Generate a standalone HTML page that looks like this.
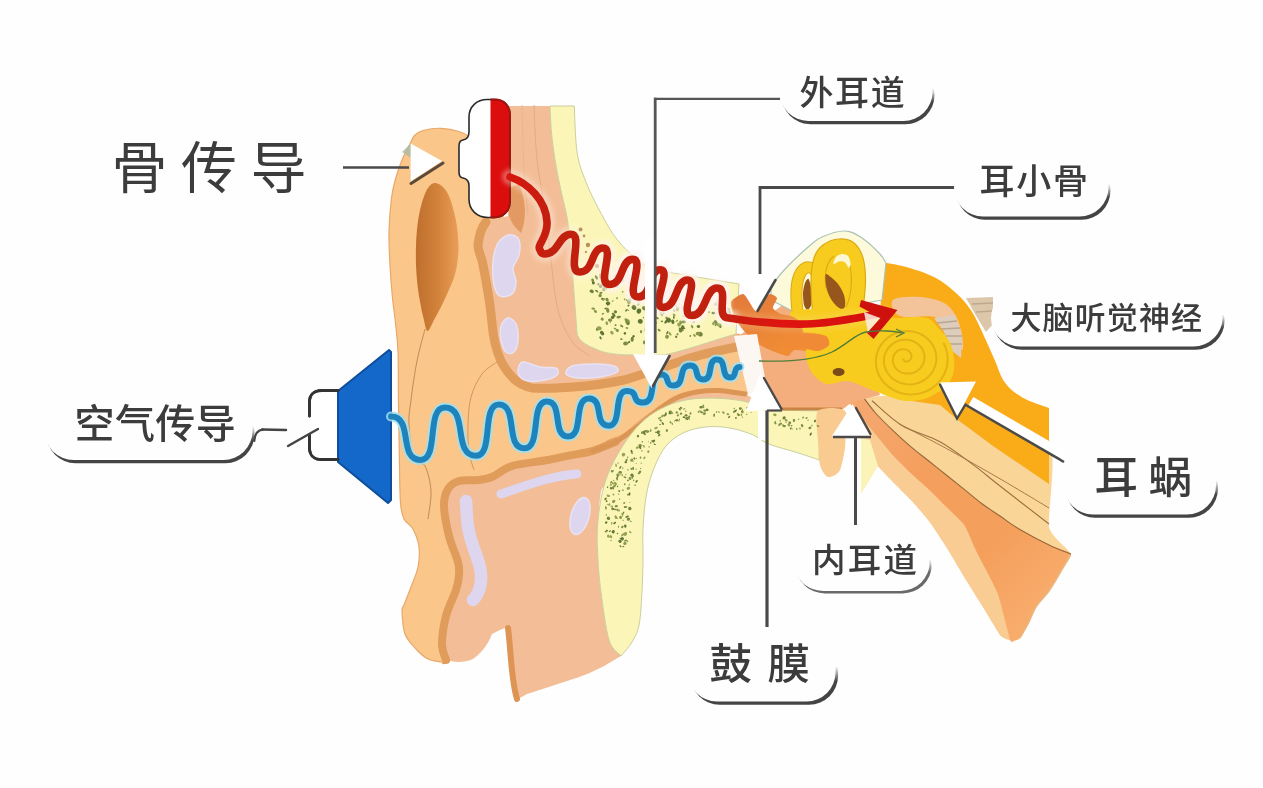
<!DOCTYPE html>
<html lang="zh"><head><meta charset="utf-8"><title>骨传导 / 空气传导</title>
<style>
html,body{margin:0;padding:0;background:#fefefe;}
body{width:1263px;height:788px;overflow:hidden;position:relative;font-family:"Liberation Sans","Noto Sans CJK SC",sans-serif;}
svg{position:absolute;left:0;top:0;display:block}
text{font-family:"Liberation Sans","Noto Sans CJK SC",sans-serif;fill:#3c3c3c}
</style></head><body>
<svg width="1263" height="788" viewBox="0 0 1263 788">
<path d="M409.0,146.0 C411.1,141.9 412.2,138.1 414.5,135.5 C416.8,132.9 418.6,131.7 423.0,130.5 C427.4,129.3 435.0,128.1 441.0,128.3 C447.0,128.5 453.3,129.6 459.0,131.5 C464.7,133.4 468.2,135.2 475.0,140.0 C481.8,144.8 495.0,133.3 500.0,160.0 C505.0,186.7 501.7,265.0 505.0,300.0 C508.3,335.0 504.2,357.5 520.0,370.0 C535.8,382.5 571.7,378.3 600.0,375.0 C628.3,371.7 666.3,356.5 690.0,350.0 C713.7,343.5 732.3,329.0 742.0,336.0 C751.7,343.0 756.7,382.3 748.0,392.0 C739.3,401.7 706.5,390.3 690.0,394.0 C673.5,397.7 660.0,407.3 649.0,414.0 C638.0,420.7 632.5,428.0 624.0,434.0 C615.5,440.0 608.7,435.7 598.0,450.0 C587.3,464.3 573.0,495.0 560.0,520.0 C547.0,545.0 535.0,580.0 520.0,600.0 C505.0,620.0 482.3,629.7 470.0,640.0 C457.7,650.3 450.8,658.3 446.0,662.0 C441.2,665.7 444.0,662.5 441.0,662.0 C438.0,661.5 432.2,661.2 428.0,659.0 C423.8,656.8 419.8,653.2 416.0,649.0 C412.2,644.8 407.3,640.3 405.0,634.0 C402.7,627.7 402.2,615.8 402.0,611.0 C401.8,606.2 402.5,609.0 404.0,605.0 C405.5,601.0 408.7,593.3 411.0,587.0 C413.3,580.7 416.7,573.7 418.0,567.0 C419.3,560.3 419.8,553.3 419.0,547.0 C418.2,540.7 415.5,533.7 413.0,529.0 C410.5,524.3 406.1,523.3 404.0,519.0 C401.9,514.7 401.2,512.0 400.5,503.0 C399.8,494.0 399.8,481.5 399.5,465.0 C399.2,448.5 398.8,422.8 398.5,404.0 C398.2,385.2 398.5,365.5 398.0,352.0 C397.5,338.5 396.4,332.0 395.5,323.0 C394.6,314.0 393.4,307.7 392.5,298.0 C391.6,288.3 390.6,276.0 390.0,265.0 C389.4,254.0 388.8,243.2 389.0,232.0 C389.2,220.8 390.4,206.8 391.5,198.0 C392.6,189.2 393.8,185.3 395.5,179.0 C397.2,172.7 399.8,165.5 402.0,160.0 C404.2,154.5 406.9,150.1 409.0,146.0Z" fill="#FBC689" stroke="#E8A86A" stroke-width="1.2"/>
<defs><linearGradient id="gScapha" x1="0" y1="0" x2="1" y2="0"><stop offset="0" stop-color="#BE6F2C"/><stop offset="0.5" stop-color="#D2823A"/><stop offset="1" stop-color="#E99E58"/></linearGradient></defs>
<path d="M435.5,183.0 C437.8,183.2 440.8,184.8 443.0,187.0 C445.2,189.2 447.2,191.8 449.0,196.0 C450.8,200.2 452.7,206.8 454.0,212.0 C455.3,217.2 456.2,221.0 457.0,227.0 C457.8,233.0 458.5,241.7 458.5,248.0 C458.5,254.3 457.8,259.8 457.0,265.0 C456.2,270.2 455.0,274.5 453.5,279.0 C452.0,283.5 449.9,287.7 448.0,292.0 C446.1,296.3 444.2,300.5 442.0,305.0 C439.8,309.5 436.9,314.7 434.5,319.0 C432.1,323.3 429.3,331.2 427.5,331.0 C425.7,330.8 424.7,322.5 423.5,318.0 C422.3,313.5 421.5,309.5 420.5,304.0 C419.5,298.5 418.2,291.5 417.5,285.0 C416.8,278.5 416.2,271.7 416.0,265.0 C415.8,258.3 415.8,251.7 416.0,245.0 C416.2,238.3 416.8,231.2 417.5,225.0 C418.2,218.8 419.3,213.0 420.5,208.0 C421.7,203.0 423.0,198.7 424.5,195.0 C426.0,191.3 427.7,188.0 429.5,186.0 C431.3,184.0 433.2,182.8 435.5,183.0Z" fill="url(#gScapha)"/>
<path d="M425.0,329.0 C423.7,334.3 419.3,349.2 417.0,361.0 C414.7,372.8 412.3,389.3 411.0,400.0 C409.7,410.7 408.5,415.0 409.0,425.0 C409.5,435.0 411.3,453.2 414.0,460.0 C416.7,466.8 422.2,460.8 425.0,466.0 C427.8,471.2 430.5,482.2 431.0,491.0 C431.5,499.8 428.5,514.3 428.0,519.0" fill="none" stroke="#B9834E" stroke-width="0.9"/>
<path d="M497.0,362.0 C494.5,364.0 486.3,368.2 482.0,374.0 C477.7,379.8 473.3,388.5 471.0,397.0 C468.7,405.5 468.3,415.8 468.0,425.0 C467.7,434.2 468.0,444.5 469.0,452.0 C470.0,459.5 473.2,467.0 474.0,470.0" fill="none" stroke="#C9925A" stroke-width="0.9"/>
<path d="M508,106 L550,106 C551,150 559,182 566,212 C569,225 572,260 573,280 L577,333 C578,340 585,345 598,350 C605,353 615,355 636,355 L665,355 C690,349 715,340 736,334 L742,346 C720,350 700,355 690,358 C675,363 660,369 649,372 C640,375 632,378 624,380 C605,384 590,386 573,387 C560,388 545,389 532,388 C524,386 518,383 514,379 C508,373 504,367 501,361 C496,350 493,336 492,323 C491,313 490,303 488,293 C486,280 484,270 482,260 C479,252 478,248 478,245 C479,236 481,228 485,222 L508,216Z" fill="#F3BE97"/>
<path d="M486,222 C481,228 479,236 478,245 C478,248 479,252 482,260 C484,270 486,280 488,293 C490,303 491,313 492,323 C493,336 496,350 501,361 C504,367 508,373 514,379 C518,383 524,386 532,388 C545,389 560,388 573,387 C590,386 605,384 624,380 C632,378 640,375 649,372 C660,369 675,363 690,358 C700,355 720,350 742,346" fill="none" stroke="#E09C5A" stroke-width="9" stroke-linecap="round" stroke-linejoin="round"/>
<path d="M534.0,105.0 C534.5,114.2 535.2,142.5 537.0,160.0 C538.8,177.5 542.7,193.3 545.0,210.0 C547.3,226.7 549.2,245.0 551.0,260.0 C552.8,275.0 554.0,289.2 556.0,300.0 C558.0,310.8 559.8,317.5 563.0,325.0 C566.2,332.5 570.5,339.8 575.0,345.0 C579.5,350.2 587.5,354.2 590.0,356.0" fill="none" stroke="#E2AC84" stroke-width="1"/>
<path d="M522.0,105.0 C522.3,115.8 523.0,151.7 524.0,170.0 C525.0,188.3 527.3,207.5 528.0,215.0" fill="none" stroke="#E8B48E" stroke-width="0.9"/>
<path d="M509,188 L519,184 C526,200 527,218 521,233 C515,228 511,222 509,216Z" fill="#E29A62"/>
<path d="M446.0,660.0 C445.3,657.3 442.0,651.3 442.0,644.0 C442.0,636.7 443.7,625.0 446.0,616.0 C448.3,607.0 453.8,596.8 456.0,590.0 C458.2,583.2 458.7,579.7 459.0,575.0 C459.3,570.3 459.7,568.5 458.0,562.0 C456.3,555.5 451.3,545.3 449.0,536.0 C446.7,526.7 444.2,513.8 444.0,506.0 C443.8,498.2 445.5,493.2 448.0,489.0 C450.5,484.8 454.0,482.5 459.0,481.0 C464.0,479.5 472.5,480.7 478.0,480.0 C483.5,479.3 486.3,479.3 492.0,477.0 C497.7,474.7 502.7,468.8 512.0,466.0 C521.3,463.2 538.3,461.8 548.0,460.0 C557.7,458.2 562.5,456.9 570.0,455.4 C577.5,453.9 585.2,453.1 592.8,450.8 C600.4,448.5 608.1,445.9 615.7,441.7 C623.3,437.5 630.9,431.4 638.5,425.7 C646.1,420.0 654.9,412.1 661.4,407.4 C667.9,402.7 671.3,400.1 677.4,397.5 C683.5,394.9 691.1,393.0 698.0,391.8 C704.9,390.6 710.7,390.1 718.5,390.5 C726.3,390.9 740.6,393.4 745.0,394.0 L760,402 L760,414 L700,410 L650,432 L621,470 C612,478 603,485 601,491 C598,510 598,530 598,541 C598,560 599,580 601,592 C603,610 606,628 609,640 L621,656 C612,661 605,666 598,669 C590,673 580,677 573,679 C555,685 540,690 527,694 L516,700 C512,690 510,660 510,645 L507,627 L500,630 L492,634 C488,645 480,655 471,660 C462,663 452,662 446,660Z" fill="#F3BE97"/>
<path d="M446.0,660.0 C445.3,657.3 442.0,651.3 442.0,644.0 C442.0,636.7 443.7,625.0 446.0,616.0 C448.3,607.0 453.8,596.8 456.0,590.0 C458.2,583.2 458.7,579.7 459.0,575.0 C459.3,570.3 459.7,568.5 458.0,562.0 C456.3,555.5 451.3,545.3 449.0,536.0 C446.7,526.7 444.2,513.8 444.0,506.0 C443.8,498.2 445.5,493.2 448.0,489.0 C450.5,484.8 454.0,482.5 459.0,481.0 C464.0,479.5 472.5,480.7 478.0,480.0 C483.5,479.3 486.3,479.3 492.0,477.0 C497.7,474.7 502.7,468.8 512.0,466.0 C521.3,463.2 538.3,461.8 548.0,460.0 C557.7,458.2 562.5,456.9 570.0,455.4 C577.5,453.9 585.2,453.1 592.8,450.8 C600.4,448.5 611.9,443.2 615.7,441.7" fill="none" stroke="#E09C5A" stroke-width="8" stroke-linecap="round" stroke-linejoin="round"/>
<path d="M592.8,450.8 C596.6,449.3 608.1,445.9 615.7,441.7 C623.3,437.5 630.9,431.4 638.5,425.7 C646.1,420.0 654.9,412.1 661.4,407.4 C667.9,402.7 671.3,400.1 677.4,397.5 C683.5,394.9 691.1,393.0 698.0,391.8 C704.9,390.6 710.7,390.1 718.5,390.5 C726.3,390.9 740.6,393.4 745.0,394.0" fill="none" stroke="#DB9656" stroke-width="5" stroke-linecap="round" stroke-linejoin="round"/>
<path d="M508,628 C511,650 511,680 517,699" fill="none" stroke="#DE9455" stroke-width="6" stroke-linecap="round"/>
<path d="M550,106 L574.3,106 C575,125 575.5,140 577,152 C579,165 582,172 586,182 C591,195 598,208 608.6,227 C615,238 622,245.5 628,251.5 C636,259 644,265 652,269.5 L739,284 L736,334 C715,340 690,349 665,355 L636,355 C615,355 605,353 598,350 C585,345 578,340 577,333 L573,280 C572,260 569,225 566,212 C559,182 551,150 550,106Z" fill="#FBF6B8" stroke="#C9CF9C" stroke-width="1"/>
<path d="M621.0,656.0 C619.0,653.3 612.3,650.7 609.0,640.0 C605.7,629.3 602.8,605.3 601.0,592.0 C599.2,578.7 598.6,570.6 598.0,560.0 C597.4,549.4 596.7,539.5 597.4,528.5 C598.1,517.5 599.7,504.2 602.0,494.0 C604.3,483.8 606.8,476.1 611.0,467.0 C615.2,457.9 621.3,447.4 627.0,439.4 C632.7,431.4 638.9,424.5 645.4,419.0 C651.9,413.5 658.7,409.6 666.0,406.3 C673.3,403.0 680.2,400.7 689.0,399.4 C697.8,398.1 709.0,397.9 718.5,398.3 C728.0,398.7 739.6,400.2 746.0,401.7 C752.4,403.2 753.5,406.0 757.0,407.4 C760.5,408.8 765.3,409.6 767.0,410.0 L822,411 L819,460 L819.0,460.0 C815.6,458.8 806.9,455.7 798.5,453.0 C790.1,450.3 776.4,447.0 768.8,444.0 C761.2,441.0 759.3,437.5 752.8,434.8 C746.3,432.1 737.6,429.3 730.0,428.0 C722.4,426.7 714.7,426.1 707.0,426.8 C699.3,427.6 690.8,429.3 684.0,432.5 C677.2,435.7 670.9,440.2 666.0,446.0 C661.1,451.8 657.8,459.0 654.5,467.0 C651.2,475.0 648.4,483.8 646.5,494.0 C644.6,504.2 643.6,517.5 643.0,528.5 C642.4,539.5 643.2,549.4 643.0,560.0 C642.8,570.6 642.7,581.2 642.0,592.0 C641.3,602.8 640.7,616.7 639.0,625.0 C637.3,633.3 635.0,636.8 632.0,642.0 C629.0,647.2 622.8,653.7 621.0,656.0Z" fill="#FBF6B8" stroke="#C9CF9C" stroke-width="1"/>
<path d="M512.0,235.0 C514.5,235.5 517.8,236.7 519.0,240.0 C520.2,243.3 520.0,250.3 519.0,255.0 C518.0,259.7 513.5,263.5 513.0,268.0 C512.5,272.5 516.2,277.7 516.0,282.0 C515.8,286.3 514.7,291.7 512.0,294.0 C509.3,296.3 503.0,297.5 500.0,296.0 C497.0,294.5 495.2,290.7 494.0,285.0 C492.8,279.3 492.5,268.7 493.0,262.0 C493.5,255.3 495.2,249.2 497.0,245.0 C498.8,240.8 501.5,238.7 504.0,237.0 C506.5,235.3 509.5,234.5 512.0,235.0Z" fill="#DDD6EE" stroke="#E9E2F2" stroke-width="1.5"/>
<path d="M508.0,318.0 C510.5,317.7 514.3,320.3 516.0,324.0 C517.7,327.7 518.3,335.3 518.0,340.0 C517.7,344.7 516.0,350.0 514.0,352.0 C512.0,354.0 508.2,354.0 506.0,352.0 C503.8,350.0 501.8,344.3 501.0,340.0 C500.2,335.7 499.8,329.7 501.0,326.0 C502.2,322.3 505.5,318.3 508.0,318.0Z" fill="#DDD6EE" stroke="#E9E2F2" stroke-width="1.5"/>
<path d="M524.0,362.0 C527.5,362.2 534.7,366.0 540.0,367.0 C545.3,368.0 553.2,366.7 556.0,368.0 C558.8,369.3 558.8,373.0 557.0,375.0 C555.2,377.0 549.8,379.0 545.0,380.0 C540.2,381.0 532.3,381.8 528.0,381.0 C523.7,380.2 520.5,377.5 519.0,375.0 C517.5,372.5 518.2,368.2 519.0,366.0 C519.8,363.8 520.5,361.8 524.0,362.0Z" fill="#DDD6EE" stroke="#E9E2F2" stroke-width="1.5"/>
<path d="M572.0,366.0 C576.8,364.3 588.0,364.0 595.0,364.0 C602.0,364.0 610.3,364.7 614.0,366.0 C617.7,367.3 619.3,370.2 617.0,372.0 C614.7,373.8 606.5,376.0 600.0,377.0 C593.5,378.0 583.7,378.5 578.0,378.0 C572.3,377.5 567.0,376.0 566.0,374.0 C565.0,372.0 567.2,367.7 572.0,366.0Z" fill="#DDD6EE" stroke="#E9E2F2" stroke-width="1.5"/>
<path d="M466,501 C467,520 467,530 474,549 C480,565 483,575 480,587 C478,594 475,598 473,600" fill="none" stroke="#DDD6EE" stroke-width="12.5" stroke-linecap="round"/>
<path d="M501,494 C525,486 550,476 577,474" fill="none" stroke="#DDD6EE" stroke-width="9" stroke-linecap="round"/>
<ellipse cx="580" cy="516" rx="9" ry="19" transform="rotate(16 580 516)" fill="#DDD6EE" stroke="#E9E2F2" stroke-width="1.5"/>
<path d="M852.0,400.0 C855.7,397.5 892.5,394.6 900.0,395.0 C907.5,395.4 929.6,401.2 942.0,405.0 C954.4,408.8 1040.1,429.8 1049.0,440.0 C1057.9,450.2 1047.2,517.5 1049.0,527.0 C1050.8,536.5 1070.1,550.2 1071.0,554.0 C1071.9,557.8 1061.8,569.9 1060.0,573.0 C1058.2,576.1 1051.0,588.2 1049.0,591.0 C1047.0,593.8 1037.8,604.2 1036.0,607.0 C1034.2,609.8 1029.3,621.4 1028.0,624.0 C1026.7,626.6 1021.2,636.6 1020.0,638.0 C1018.8,639.4 1015.1,641.2 1013.5,641.0 C1011.9,640.8 1003.5,638.8 1001.0,636.0 C998.5,633.2 986.0,611.8 983.0,607.0 C980.0,602.2 968.5,583.9 965.5,579.0 C962.5,574.1 950.0,552.8 947.0,548.0 C944.0,543.2 932.0,525.0 929.0,521.0 C926.0,517.0 914.0,503.2 911.0,500.0 C908.0,496.8 895.8,484.9 893.0,482.0 C890.2,479.1 879.5,468.2 877.0,465.0 C874.5,461.8 864.8,446.3 863.0,443.0 C861.2,439.7 856.9,428.6 856.0,425.0 C855.1,421.4 848.3,402.5 852.0,400.0Z" fill="#FAD598"/>
<path d="M852.0,402.0 C852.1,401.0 855.8,410.3 857.8,413.0 C859.8,415.7 872.5,430.8 875.5,434.4 C878.5,438.0 890.3,452.4 893.3,455.7 C896.3,459.0 908.0,470.7 911.0,473.5 C914.0,476.3 925.8,486.6 928.8,489.4 C931.8,492.2 943.6,504.2 946.6,507.2 C949.6,510.2 961.8,521.4 964.3,525.0 C966.8,528.6 973.2,545.0 976.0,550.7 C978.8,556.4 994.7,585.6 997.5,593.0 C1000.3,600.4 1008.7,635.5 1010.0,639.5 C1011.3,643.5 1014.2,641.3 1013.5,641.0 C1012.8,640.7 1003.5,638.8 1001.0,636.0 C998.5,633.2 986.0,611.8 983.0,607.0 C980.0,602.2 968.5,583.9 965.5,579.0 C962.5,574.1 950.0,552.8 947.0,548.0 C944.0,543.2 932.0,525.0 929.0,521.0 C926.0,517.0 914.0,503.2 911.0,500.0 C908.0,496.8 895.8,484.9 893.0,482.0 C890.2,479.1 879.5,468.2 877.0,465.0 C874.5,461.8 864.8,446.3 863.0,443.0 C861.2,439.7 856.9,428.4 856.0,425.0 C855.1,421.6 851.9,403.0 852.0,402.0Z" fill="#F9CC93"/>
<defs><linearGradient id="gNerve" gradientUnits="userSpaceOnUse" x1="870" y1="410" x2="1050" y2="600"><stop offset="0" stop-color="#F5A76E"/><stop offset="0.3" stop-color="#F59F5E"/><stop offset="0.7" stop-color="#F59F5C"/><stop offset="1" stop-color="#F8AC6C"/></linearGradient></defs>
<path d="M848.0,388.0 C849.4,387.9 860.7,394.9 863.0,397.0 C865.3,399.1 873.0,410.2 875.5,413.0 C878.0,415.8 890.3,428.0 893.3,430.8 C896.3,433.6 908.0,444.3 911.0,446.8 C914.0,449.3 925.8,458.6 928.8,461.0 C931.8,463.4 943.6,472.8 946.6,475.2 C949.6,477.6 961.3,487.0 964.3,489.4 C967.2,491.8 979.0,501.5 982.0,503.7 C985.0,505.9 996.9,513.9 1000.0,516.0 C1003.1,518.1 1014.9,526.6 1019.0,529.0 C1023.1,531.4 1044.7,542.9 1049.0,545.0 C1053.3,547.1 1070.1,551.7 1071.0,554.0 C1071.9,556.3 1061.8,569.9 1060.0,573.0 C1058.2,576.1 1051.0,588.2 1049.0,591.0 C1047.0,593.8 1037.8,604.2 1036.0,607.0 C1034.2,609.8 1029.3,621.4 1028.0,624.0 C1026.7,626.6 1021.2,636.6 1020.0,638.0 C1018.8,639.4 1014.3,640.9 1013.5,641.0 C1012.7,641.1 1011.3,643.5 1010.0,639.5 C1008.7,635.5 1000.3,600.4 997.5,593.0 C994.7,585.6 978.8,556.4 976.0,550.7 C973.2,545.0 966.8,528.6 964.3,525.0 C961.8,521.4 949.6,510.2 946.6,507.2 C943.6,504.2 931.8,492.2 928.8,489.4 C925.8,486.6 914.0,476.3 911.0,473.5 C908.0,470.7 896.3,459.0 893.3,455.7 C890.3,452.4 878.5,438.0 875.5,434.4 C872.5,430.8 860.3,416.0 857.8,413.0 C855.3,410.0 846.8,400.1 846.0,398.0 C845.2,395.9 846.6,388.1 848.0,388.0Z" fill="url(#gNerve)"/>
<path d="M863.0,397.0 C865.1,399.7 870.5,407.4 875.5,413.0 C880.5,418.6 887.4,425.2 893.3,430.8 C899.2,436.4 905.1,441.8 911.0,446.8 C916.9,451.8 922.9,456.3 928.8,461.0 C934.7,465.7 940.7,470.5 946.6,475.2 C952.5,479.9 958.4,484.6 964.3,489.4 C970.2,494.1 976.0,499.3 982.0,503.7 C988.0,508.1 993.8,511.8 1000.0,516.0 C1006.2,520.2 1010.8,524.2 1019.0,529.0 C1027.2,533.8 1040.3,540.8 1049.0,545.0 C1057.7,549.2 1067.3,552.5 1071.0,554.0" fill="none" stroke="#93683A" stroke-width="1.1"/>
<path d="M872.0,400.7 C877.0,404.8 890.8,418.7 902.0,425.5 C913.2,432.3 927.7,435.0 939.5,441.5 C951.3,448.0 962.9,457.2 973.0,464.6 C983.1,472.0 987.3,476.1 1000.0,486.0 C1012.7,495.9 1040.8,517.7 1049.0,524.0" fill="none" stroke="#9C7040" stroke-width="1.1"/>
<path d="M898.6,423.7 C906.6,427.9 929.7,439.4 946.6,448.6 C963.5,457.8 982.9,468.9 1000.0,478.8 C1017.1,488.7 1040.8,503.1 1049.0,508.0" fill="none" stroke="#A87A48" stroke-width="1"/>
<path d="M1070.0,555.0 C1068.3,558.0 1063.5,567.0 1060.0,573.0 C1056.5,579.0 1053.0,585.3 1049.0,591.0 C1045.0,596.7 1039.5,601.5 1036.0,607.0 C1032.5,612.5 1030.7,618.8 1028.0,624.0 C1025.3,629.2 1021.3,635.7 1020.0,638.0" fill="none" stroke="#E9B880" stroke-width="1.5"/>
<path d="M740.0,335.0 L790.0,300.0 L860.0,330.0 L880.0,395.0 L852.0,402.0 L842.0,410.0 L767.0,410.0 L760.0,380.0Z" fill="#F4AE7E"/>
<path d="M966,298 L993,297 L993,324 L986,332 L975,314Z" fill="#DCC7AA"/>
<path d="M972,304 L993,303 M976,312 L993,311" stroke="#BFA98C" stroke-width="1.5" fill="none"/>
<path d="M884.0,262.5 C888.0,263.3 899.3,264.9 908.0,267.5 C916.7,270.1 928.0,273.7 936.0,278.0 C944.0,282.3 950.4,287.8 956.3,293.3 C962.2,298.8 966.9,303.8 971.5,311.0 C976.1,318.2 980.4,328.3 984.2,336.4 C988.0,344.4 991.0,351.7 994.4,359.3 C997.8,366.9 999.9,375.6 1004.5,382.0 C1009.1,388.4 1014.9,393.1 1022.3,397.4 C1029.7,401.7 1044.5,406.2 1049.0,408.0 L1049,484 L993,446 L958,420 L940,405 L905,400 L880,330 L881,290Z" fill="#F9AC18"/>
<path d="M893.0,300.0 C896.3,296.8 911.5,296.5 920.0,297.0 C928.5,297.5 938.0,299.8 944.0,303.0 C950.0,306.2 953.0,310.7 956.0,316.0 C959.0,321.3 961.0,329.3 962.0,335.0 C963.0,340.7 964.0,350.8 962.0,350.0 C960.0,349.2 954.5,335.5 950.0,330.0 C945.5,324.5 943.3,319.3 935.0,317.0 C926.7,314.7 907.0,318.8 900.0,316.0 C893.0,313.2 889.7,303.2 893.0,300.0Z" fill="#F3C49A"/>
<path d="M934.0,318.0 L955.0,315.0 L962.0,336.0 L961.0,358.0 L951.0,350.0 L944.0,332.0Z" fill="#DCCDBC"/>
<path d="M937,323 L957,321 M941,329 L960,328 M946,336 L962,336 M950,344 L962,344" stroke="#B9A68E" stroke-width="1.6" fill="none"/>
<path d="M771.0,286.0 C773.5,283.0 780.0,274.3 786.0,268.0 C792.0,261.7 801.0,253.2 807.0,248.0 C813.0,242.8 815.7,239.8 822.0,237.0 C828.3,234.2 838.3,230.8 845.0,231.0 C851.7,231.2 856.2,234.2 862.0,238.0 C867.8,241.8 876.0,249.8 880.0,254.0 C884.0,258.2 885.0,261.5 886.0,263.0 L882,300 L800,315 L771,300Z" fill="#FCFADB" stroke="#A9C2B4" stroke-width="1.2"/>
<defs><linearGradient id="gOss" x1="0" y1="0" x2="1" y2="1"><stop offset="0" stop-color="#E2793C"/><stop offset="1" stop-color="#F59432"/></linearGradient></defs>
<path d="M731.0,302.0 C731.9,299.2 740.8,293.9 743.0,294.0 C745.2,294.1 748.5,301.0 750.0,303.0 C751.5,305.0 754.4,311.4 756.0,311.0 C757.6,310.6 762.4,302.0 764.0,300.0 C765.6,298.0 768.5,294.2 770.0,294.0 C771.5,293.8 776.6,296.4 777.0,298.0 C777.4,299.6 772.5,306.1 773.0,308.0 C773.5,309.9 777.9,312.8 781.0,314.0 C784.1,315.2 794.8,315.8 800.0,318.0 C805.2,320.2 822.6,329.9 826.0,333.0 C829.4,336.1 830.3,342.8 829.0,345.0 C827.7,347.2 819.0,351.4 815.0,352.0 C811.0,352.6 798.1,349.5 795.0,350.0 C791.9,350.5 790.3,355.8 788.0,356.0 C785.7,356.2 778.3,353.3 775.0,352.0 C771.7,350.7 763.5,347.3 760.0,345.0 C756.5,342.7 747.9,335.1 745.0,332.0 C742.1,328.9 736.6,321.5 735.0,318.0 C733.4,314.5 730.1,304.8 731.0,302.0Z" fill="url(#gOss)"/>
<path d="M797.5,311 C795.5,295 796,278 802,271 C806,266 812,266 816,272" fill="none" stroke="#DCA912" stroke-width="12" stroke-linecap="round"/>
<path d="M797.5,311 C795.5,295 796,278 802,271 C806,266 812,266 816,272" fill="none" stroke="#F8CC1E" stroke-width="10" stroke-linecap="round"/>
<path d="M803.0,293.0 C803.1,290.1 804.3,284.9 805.0,283.0 C805.7,281.1 807.6,278.1 808.5,279.0 C809.4,279.9 811.1,286.7 811.5,290.0 C811.9,293.3 812.0,301.3 811.5,304.0 C811.0,306.7 808.5,309.9 807.5,310.0 C806.5,310.1 804.6,307.3 804.0,305.0 C803.4,302.7 802.9,295.9 803.0,293.0Z" fill="#96561C"/>
<path d="M812.5,313.0 C812.2,307.7 810.8,290.2 811.0,281.0 C811.2,271.8 812.0,264.0 814.0,258.0 C816.0,252.0 818.8,248.2 823.0,245.0 C827.2,241.8 833.8,239.3 839.0,239.0 C844.2,238.7 850.0,239.8 854.0,243.0 C858.0,246.2 861.1,251.7 863.0,258.0 C864.9,264.3 865.5,272.3 865.5,281.0 C865.5,289.7 863.4,305.2 863.0,310.0 L863,313Z" fill="#F8CC1E" stroke="#DCA912" stroke-width="1.2"/>
<path d="M833.5,264.0 C833.0,263.2 834.6,258.7 836.0,257.0 C837.4,255.3 840.0,254.2 842.0,254.0 C844.0,253.8 846.6,254.5 848.0,256.0 C849.4,257.5 850.3,261.0 850.5,263.0 C850.7,265.0 849.9,268.1 849.0,268.0 C848.1,267.9 846.7,263.6 845.0,262.5 C843.3,261.4 840.9,261.2 839.0,261.5 C837.1,261.8 834.0,264.8 833.5,264.0Z" fill="#FCF8D4"/>
<path d="M826,288 C824,275 826,262 834,256 M850,266 C853,280 851,297 846,307" fill="none" stroke="#DCA912" stroke-width="1.1"/>
<path d="M825.5,275.0 C826.0,272.8 827.9,275.0 830.0,276.5 C832.1,278.0 835.7,280.9 838.0,284.0 C840.3,287.1 842.8,291.3 844.0,295.0 C845.2,298.7 845.5,303.7 845.0,306.0 C844.5,308.3 843.0,309.7 841.0,309.0 C839.0,308.3 835.3,305.2 833.0,302.0 C830.7,298.8 828.2,294.5 827.0,290.0 C825.8,285.5 825.0,277.2 825.5,275.0Z" fill="#96561C"/>
<path d="M806.0,345.0 C805.2,340.2 802.1,326.0 800.0,322.0 C797.9,318.0 790.7,316.6 790.0,315.0 C789.3,313.4 789.7,310.8 795.0,310.0 C800.3,309.2 820.5,309.1 830.0,309.0 C839.5,308.9 859.3,308.1 866.0,309.0 C872.7,309.9 876.1,314.8 880.0,316.0 C883.9,317.2 888.2,317.5 895.0,318.0 C901.8,318.5 923.1,314.3 931.0,320.0 C938.9,325.7 952.1,351.9 954.0,361.0 C955.9,370.1 951.1,382.7 945.0,388.0 C938.9,393.3 917.7,400.7 908.0,401.0 C898.3,401.3 880.0,392.7 872.0,390.0 C864.0,387.3 854.1,381.8 848.0,381.0 C841.9,380.2 830.8,385.1 826.0,384.0 C821.2,382.9 814.7,376.5 812.0,373.0 C809.3,369.5 806.8,361.7 806.0,358.0 C805.2,354.3 806.8,349.8 806.0,345.0Z" fill="#F8CC1E"/>
<ellipse cx="911" cy="360" rx="43" ry="41" fill="#F8CC1E"/>
<path d="M943.8,343.5 L945.1,346.4 L946.2,349.5 L947.0,352.6 L947.5,355.8 L947.7,359.0 L947.5,362.1 L947.1,365.3 L946.4,368.4 L945.4,371.4 L944.1,374.3 L942.6,377.1 L940.8,379.7 L938.8,382.2 L936.6,384.5 L934.1,386.5 L931.5,388.4 L928.8,390.0 L925.9,391.4 L922.9,392.5 L919.8,393.4 L916.6,394.0 L913.4,394.3 L910.3,394.4 L907.1,394.2 L904.0,393.7 L900.9,393.0 L897.9,392.0 L895.1,390.8 L892.3,389.4 L889.8,387.7 L887.4,385.8 L885.2,383.8 L883.2,381.6 L881.4,379.2 L879.8,376.7 L878.5,374.1 L877.5,371.4 L876.7,368.7 L876.2,365.9 L875.9,363.1 L875.9,360.2 L876.2,357.4 L876.7,354.7 L877.5,352.0 L878.5,349.4 L879.7,347.0 L881.2,344.6 L882.9,342.4 L884.7,340.4 L886.8,338.5 L889.0,336.8 L891.3,335.3 L893.8,334.1 L896.3,333.0 L898.9,332.2 L901.6,331.6 L904.3,331.2 L907.0,331.1 L909.7,331.2 L912.4,331.5 L915.0,332.1 L917.6,332.9 L920.0,333.9 L922.3,335.0 L924.5,336.4 L926.6,338.0 L928.5,339.7 L930.2,341.5 L931.7,343.5 L933.0,345.6 L934.1,347.8 L935.0,350.1 L935.7,352.4 L936.1,354.8 L936.4,357.2 L936.4,359.6 L936.1,361.9 L935.7,364.3 L935.0,366.5 L934.1,368.7 L933.1,370.8 L931.8,372.8 L930.4,374.7 L928.8,376.4 L927.0,378.0 L925.1,379.5 L923.1,380.7 L921.0,381.8 L918.8,382.7 L916.6,383.4 L914.3,383.9 L912.0,384.2 L909.6,384.4 L907.3,384.3 L905.0,384.0 L902.8,383.6 L900.6,382.9 L898.5,382.1 L896.4,381.1 L894.5,380.0 L892.8,378.7 L891.1,377.2 L889.6,375.7 L888.3,374.0 L887.1,372.3 L886.1,370.4 L885.3,368.5 L884.7,366.6 L884.2,364.6 L884.0,362.6 L883.9,360.6 L884.0,358.6 L884.3,356.7 L884.8,354.8 L885.5,352.9 L886.3,351.2 L887.3,349.5 L888.4,347.9 L889.6,346.5 L891.0,345.1 L892.5,343.9 L894.0,342.9 L895.7,341.9 L897.4,341.2 L899.2,340.6 L901.0,340.1 L902.8,339.8 L904.7,339.7 L906.5,339.7 L908.3,339.9 L910.1,340.2 L911.8,340.7 L913.4,341.3 L915.0,342.1 L916.5,343.0 L917.9,344.0 L919.1,345.1 L920.3,346.3 L921.3,347.6 L922.2,348.9 L922.9,350.4 L923.5,351.8 L924.0,353.3 L924.3,354.9 L924.5,356.4 L924.5,358.0 L924.4,359.5 L924.1,361.0 L923.7,362.4 L923.1,363.8 L922.4,365.2 L921.6,366.4 L920.7,367.6 L919.7,368.7 L918.6,369.7 L917.5,370.6 L916.2,371.4 L914.9,372.1 L913.6,372.6 L912.2,373.1 L910.8,373.4 L909.3,373.6 L907.9,373.6 L906.5,373.6 L905.1,373.4 L903.8,373.1 L902.4,372.8 L901.2,372.3 L900.0,371.7 L898.9,371.0 L897.8,370.2 L896.9,369.4 L896.0,368.5 L895.2,367.5 L894.6,366.5 L894.0,365.4 L893.6,364.3 L893.2,363.2 L893.0,362.1 L892.8,361.0 L892.8,359.9 L892.9,358.8 L893.1,357.8 L893.3,356.7 L893.7,355.7 L894.2,354.8 L894.7,353.9 L895.3,353.1 L896.0,352.4 L896.7,351.7 L897.4,351.1 L898.3,350.6 L899.1,350.2 L900.0,349.8 L900.9,349.5 L901.8,349.3 L902.6,349.2 L903.5,349.2 L904.4,349.3 L905.2,349.4 L906.0,349.6 L906.8,349.9 L907.5,350.2 L908.2,350.6 L908.8,351.1 L909.4,351.6 L909.9,352.1 L910.3,352.6 L910.6,353.2 L910.9,353.8 L911.2,354.5 L911.3,355.1 L911.4,355.7 L911.4,356.3 L911.4,356.9 L911.3,357.5 L911.1,358.1 L910.9,358.6 L910.6,359.1 L910.3,359.6 L910.0,360.0 L909.6,360.3 L909.2,360.7 L908.7,360.9 L908.3,361.2 L907.8,361.3 L907.3,361.5 L906.9,361.5 L906.4,361.6 L906.0,361.5 L905.5,361.5 L905.1,361.4 L904.8,361.2 L904.4,361.0 L904.1,360.8 L903.9,360.5 L903.7,360.3 L903.5,360.0 L903.4,359.7 L903.4,359.3" fill="none" stroke="#E3B215" stroke-width="2" stroke-linecap="round"/>
<ellipse cx="838.6" cy="372" rx="6" ry="4" fill="#7A4A1A"/>
<path d="M790.0,334.0 C793.5,332.8 805.2,332.7 810.0,333.0 C814.8,333.3 823.5,334.4 826.0,336.0 C828.5,337.6 830.1,343.0 829.0,345.0 C827.9,347.0 821.9,350.6 818.0,351.0 C814.1,351.4 804.0,348.1 800.0,348.0 C796.0,347.9 790.1,350.8 788.0,350.0 C785.9,349.2 783.7,344.1 784.0,342.0 C784.3,339.9 786.5,335.2 790.0,334.0Z" fill="#F18A36"/>
<path d="M734,336 L757,334 L765,378 L772,392 L748,394 L741,365Z" fill="#FDF7F3"/>
<path d="M781,409 L842,409" stroke="#C98545" stroke-width="3" fill="none"/>
<path d="M861,438 L870,440 L878,466 L861,494Z" fill="#FBF3B8"/>
<path d="M818.0,411.0 C821.6,407.1 841.3,407.1 845.0,411.0 C848.7,414.9 846.7,432.1 846.0,440.0 C845.3,447.9 842.4,465.1 840.0,470.0 C837.6,474.9 830.7,477.7 828.0,477.0 C825.3,476.3 821.3,469.9 820.0,465.0 C818.7,460.1 818.3,447.2 818.0,440.0 C817.7,432.8 814.4,414.9 818.0,411.0Z" fill="#F9CB90"/>
<g opacity="0.9"><ellipse cx="654.7" cy="312.0" rx="2.6" ry="1.7" transform="rotate(150 654.7 312.0)" fill="#4F6826"/><ellipse cx="617.2" cy="330.3" rx="1.8" ry="1.5" transform="rotate(24 617.2 330.3)" fill="#7A8C3A"/><ellipse cx="667.0" cy="336.8" rx="2.0" ry="1.9" transform="rotate(115 667.0 336.8)" fill="#7A8C3A"/><ellipse cx="683.5" cy="316.2" rx="1.2" ry="1.0" transform="rotate(16 683.5 316.2)" fill="#6E8034"/><ellipse cx="598.5" cy="284.3" rx="1.3" ry="1.1" transform="rotate(83 598.5 284.3)" fill="#6E8034"/><ellipse cx="653.0" cy="333.2" rx="1.8" ry="1.3" transform="rotate(169 653.0 333.2)" fill="#8A9A46"/><ellipse cx="602.2" cy="319.1" rx="1.6" ry="1.5" transform="rotate(21 602.2 319.1)" fill="#7A8C3A"/><ellipse cx="622.8" cy="291.7" rx="1.0" ry="0.7" transform="rotate(74 622.8 291.7)" fill="#6E8034"/><ellipse cx="645.3" cy="341.9" rx="2.4" ry="1.4" transform="rotate(13 645.3 341.9)" fill="#6E8034"/><ellipse cx="680.0" cy="328.4" rx="1.4" ry="0.8" transform="rotate(3 680.0 328.4)" fill="#6E8034"/><ellipse cx="606.9" cy="288.5" rx="1.1" ry="0.7" transform="rotate(124 606.9 288.5)" fill="#6E8034"/><ellipse cx="615.4" cy="311.9" rx="1.7" ry="1.6" transform="rotate(33 615.4 311.9)" fill="#5F742C"/><ellipse cx="649.9" cy="298.8" rx="1.6" ry="0.7" transform="rotate(151 649.9 298.8)" fill="#5F742C"/><ellipse cx="633.5" cy="336.4" rx="1.3" ry="1.2" transform="rotate(154 633.5 336.4)" fill="#4F6826"/><ellipse cx="626.9" cy="328.0" rx="1.5" ry="1.0" transform="rotate(19 626.9 328.0)" fill="#8A9A46"/><ellipse cx="602.9" cy="313.7" rx="1.3" ry="0.8" transform="rotate(159 602.9 313.7)" fill="#7A8C3A"/><ellipse cx="654.8" cy="341.9" rx="1.8" ry="0.9" transform="rotate(98 654.8 341.9)" fill="#7A8C3A"/><ellipse cx="616.1" cy="281.6" rx="2.5" ry="1.5" transform="rotate(48 616.1 281.6)" fill="#7A8C3A"/><ellipse cx="612.7" cy="317.2" rx="1.9" ry="1.7" transform="rotate(154 612.7 317.2)" fill="#4F6826"/><ellipse cx="605.6" cy="308.4" rx="1.4" ry="0.8" transform="rotate(152 605.6 308.4)" fill="#4F6826"/><ellipse cx="660.2" cy="309.0" rx="2.6" ry="1.3" transform="rotate(122 660.2 309.0)" fill="#6E8034"/><ellipse cx="670.0" cy="333.9" rx="2.0" ry="1.1" transform="rotate(52 670.0 333.9)" fill="#8A9A46"/><ellipse cx="596.7" cy="291.1" rx="1.9" ry="0.9" transform="rotate(35 596.7 291.1)" fill="#5F742C"/><ellipse cx="683.9" cy="321.8" rx="2.0" ry="1.5" transform="rotate(4 683.9 321.8)" fill="#5F742C"/><ellipse cx="657.9" cy="296.8" rx="1.5" ry="0.7" transform="rotate(162 657.9 296.8)" fill="#6E8034"/><ellipse cx="600.7" cy="275.0" rx="1.5" ry="1.4" transform="rotate(19 600.7 275.0)" fill="#5F742C"/><ellipse cx="654.8" cy="297.6" rx="1.0" ry="0.8" transform="rotate(87 654.8 297.6)" fill="#5F742C"/><ellipse cx="640.3" cy="321.4" rx="2.5" ry="2.3" transform="rotate(7 640.3 321.4)" fill="#4F6826"/><ellipse cx="713.5" cy="313.0" rx="2.0" ry="1.3" transform="rotate(3 713.5 313.0)" fill="#4F6826"/><ellipse cx="715.8" cy="324.6" rx="1.6" ry="1.1" transform="rotate(118 715.8 324.6)" fill="#7A8C3A"/><ellipse cx="676.0" cy="306.1" rx="1.3" ry="0.9" transform="rotate(157 676.0 306.1)" fill="#6E8034"/><ellipse cx="684.4" cy="306.5" rx="2.5" ry="1.5" transform="rotate(173 684.4 306.5)" fill="#8A9A46"/><ellipse cx="677.5" cy="308.9" rx="2.3" ry="1.8" transform="rotate(113 677.5 308.9)" fill="#8A9A46"/><ellipse cx="680.7" cy="330.3" rx="2.3" ry="2.0" transform="rotate(98 680.7 330.3)" fill="#5F742C"/><ellipse cx="621.4" cy="339.1" rx="1.3" ry="0.9" transform="rotate(10 621.4 339.1)" fill="#5F742C"/><ellipse cx="629.6" cy="282.7" rx="1.7" ry="1.6" transform="rotate(105 629.6 282.7)" fill="#8A9A46"/><ellipse cx="644.7" cy="309.0" rx="2.1" ry="1.4" transform="rotate(19 644.7 309.0)" fill="#7A8C3A"/><ellipse cx="676.9" cy="320.9" rx="1.4" ry="0.8" transform="rotate(144 676.9 320.9)" fill="#8A9A46"/><ellipse cx="592.7" cy="280.2" rx="1.7" ry="1.4" transform="rotate(68 592.7 280.2)" fill="#6E8034"/><ellipse cx="623.9" cy="280.6" rx="1.0" ry="0.7" transform="rotate(161 623.9 280.6)" fill="#6E8034"/><ellipse cx="666.6" cy="318.0" rx="1.6" ry="1.2" transform="rotate(51 666.6 318.0)" fill="#6E8034"/><ellipse cx="692.1" cy="326.6" rx="1.9" ry="1.0" transform="rotate(69 692.1 326.6)" fill="#6E8034"/><ellipse cx="701.3" cy="310.5" rx="2.6" ry="2.0" transform="rotate(40 701.3 310.5)" fill="#7A8C3A"/><ellipse cx="646.3" cy="329.4" rx="2.5" ry="1.7" transform="rotate(99 646.3 329.4)" fill="#6E8034"/><ellipse cx="608.6" cy="304.0" rx="2.0" ry="1.3" transform="rotate(145 608.6 304.0)" fill="#6E8034"/><ellipse cx="683.3" cy="307.7" rx="2.4" ry="1.6" transform="rotate(166 683.3 307.7)" fill="#8A9A46"/><ellipse cx="624.6" cy="299.3" rx="1.1" ry="0.8" transform="rotate(82 624.6 299.3)" fill="#8A9A46"/><ellipse cx="627.4" cy="323.9" rx="0.9" ry="0.5" transform="rotate(112 627.4 323.9)" fill="#7A8C3A"/><ellipse cx="638.9" cy="301.6" rx="1.4" ry="0.8" transform="rotate(16 638.9 301.6)" fill="#6E8034"/><ellipse cx="666.2" cy="321.5" rx="2.5" ry="1.3" transform="rotate(132 666.2 321.5)" fill="#4F6826"/><ellipse cx="718.8" cy="308.9" rx="2.1" ry="2.0" transform="rotate(126 718.8 308.9)" fill="#4F6826"/><ellipse cx="672.8" cy="321.7" rx="2.3" ry="1.6" transform="rotate(74 672.8 321.7)" fill="#4F6826"/><ellipse cx="708.9" cy="312.1" rx="1.2" ry="1.0" transform="rotate(143 708.9 312.1)" fill="#7A8C3A"/><ellipse cx="626.7" cy="320.3" rx="2.6" ry="1.5" transform="rotate(36 626.7 320.3)" fill="#7A8C3A"/><ellipse cx="728.5" cy="309.3" rx="1.9" ry="1.3" transform="rotate(29 728.5 309.3)" fill="#5F742C"/><ellipse cx="662.0" cy="315.4" rx="0.9" ry="0.7" transform="rotate(102 662.0 315.4)" fill="#6E8034"/><ellipse cx="607.4" cy="277.0" rx="1.2" ry="0.8" transform="rotate(103 607.4 277.0)" fill="#7A8C3A"/><ellipse cx="628.5" cy="305.5" rx="1.1" ry="1.0" transform="rotate(121 628.5 305.5)" fill="#4F6826"/><ellipse cx="627.2" cy="322.7" rx="2.7" ry="1.5" transform="rotate(58 627.2 322.7)" fill="#6E8034"/><ellipse cx="591.7" cy="291.3" rx="2.2" ry="1.7" transform="rotate(26 591.7 291.3)" fill="#5F742C"/><ellipse cx="661.5" cy="313.7" rx="2.4" ry="1.4" transform="rotate(50 661.5 313.7)" fill="#7A8C3A"/><ellipse cx="690.3" cy="335.9" rx="0.9" ry="0.8" transform="rotate(157 690.3 335.9)" fill="#4F6826"/><ellipse cx="612.8" cy="285.3" rx="2.0" ry="1.5" transform="rotate(138 612.8 285.3)" fill="#5F742C"/><ellipse cx="677.5" cy="334.3" rx="1.3" ry="1.2" transform="rotate(80 677.5 334.3)" fill="#8A9A46"/><ellipse cx="676.2" cy="336.8" rx="1.3" ry="1.1" transform="rotate(34 676.2 336.8)" fill="#5F742C"/><ellipse cx="602.6" cy="299.1" rx="1.7" ry="1.2" transform="rotate(32 602.6 299.1)" fill="#4F6826"/><ellipse cx="618.7" cy="317.1" rx="2.3" ry="1.3" transform="rotate(174 618.7 317.1)" fill="#6E8034"/><ellipse cx="641.1" cy="331.6" rx="1.6" ry="1.2" transform="rotate(87 641.1 331.6)" fill="#7A8C3A"/><ellipse cx="661.9" cy="321.4" rx="1.2" ry="0.9" transform="rotate(6 661.9 321.4)" fill="#6E8034"/><ellipse cx="595.4" cy="311.4" rx="1.8" ry="1.3" transform="rotate(48 595.4 311.4)" fill="#7A8C3A"/><ellipse cx="616.4" cy="285.3" rx="2.4" ry="2.2" transform="rotate(24 616.4 285.3)" fill="#8A9A46"/><ellipse cx="603.8" cy="299.3" rx="1.7" ry="1.1" transform="rotate(153 603.8 299.3)" fill="#8A9A46"/><ellipse cx="643.4" cy="317.6" rx="1.0" ry="0.5" transform="rotate(116 643.4 317.6)" fill="#5F742C"/><ellipse cx="641.4" cy="297.8" rx="2.6" ry="1.4" transform="rotate(131 641.4 297.8)" fill="#7A8C3A"/><ellipse cx="602.1" cy="333.1" rx="2.5" ry="1.8" transform="rotate(48 602.1 333.1)" fill="#4F6826"/><ellipse cx="720.3" cy="325.8" rx="2.3" ry="1.2" transform="rotate(84 720.3 325.8)" fill="#4F6826"/><ellipse cx="715.8" cy="322.1" rx="2.3" ry="1.5" transform="rotate(47 715.8 322.1)" fill="#5F742C"/><ellipse cx="600.1" cy="295.6" rx="1.7" ry="1.6" transform="rotate(163 600.1 295.6)" fill="#6E8034"/><ellipse cx="629.0" cy="342.1" rx="1.4" ry="1.1" transform="rotate(145 629.0 342.1)" fill="#5F742C"/><ellipse cx="616.0" cy="275.8" rx="1.8" ry="1.4" transform="rotate(179 616.0 275.8)" fill="#4F6826"/><ellipse cx="607.1" cy="299.7" rx="1.9" ry="1.5" transform="rotate(60 607.1 299.7)" fill="#6E8034"/><ellipse cx="626.7" cy="300.1" rx="1.0" ry="0.8" transform="rotate(2 626.7 300.1)" fill="#5F742C"/><ellipse cx="604.1" cy="288.8" rx="2.5" ry="1.8" transform="rotate(106 604.1 288.8)" fill="#7A8C3A"/><ellipse cx="728.3" cy="312.6" rx="2.7" ry="2.3" transform="rotate(19 728.3 312.6)" fill="#4F6826"/><ellipse cx="668.6" cy="320.1" rx="2.6" ry="2.4" transform="rotate(40 668.6 320.1)" fill="#4F6826"/><ellipse cx="645.2" cy="342.8" rx="2.4" ry="1.8" transform="rotate(14 645.2 342.8)" fill="#7A8C3A"/><ellipse cx="651.4" cy="307.1" rx="1.4" ry="1.1" transform="rotate(93 651.4 307.1)" fill="#4F6826"/><ellipse cx="665.8" cy="306.2" rx="1.4" ry="1.1" transform="rotate(75 665.8 306.2)" fill="#8A9A46"/><ellipse cx="673.8" cy="317.5" rx="1.6" ry="0.8" transform="rotate(80 673.8 317.5)" fill="#4F6826"/><ellipse cx="600.5" cy="337.9" rx="1.7" ry="1.0" transform="rotate(62 600.5 337.9)" fill="#4F6826"/><ellipse cx="596.5" cy="277.4" rx="2.4" ry="1.2" transform="rotate(62 596.5 277.4)" fill="#4F6826"/><ellipse cx="679.3" cy="304.2" rx="1.3" ry="0.8" transform="rotate(39 679.3 304.2)" fill="#6E8034"/><ellipse cx="607.8" cy="303.2" rx="2.1" ry="1.6" transform="rotate(163 607.8 303.2)" fill="#4F6826"/><ellipse cx="673.3" cy="301.5" rx="2.3" ry="2.0" transform="rotate(35 673.3 301.5)" fill="#7A8C3A"/><ellipse cx="628.8" cy="321.4" rx="1.9" ry="1.0" transform="rotate(71 628.8 321.4)" fill="#7A8C3A"/><ellipse cx="625.6" cy="343.5" rx="2.5" ry="1.9" transform="rotate(2 625.6 343.5)" fill="#6E8034"/><ellipse cx="628.7" cy="301.9" rx="2.0" ry="1.1" transform="rotate(71 628.7 301.9)" fill="#6E8034"/><ellipse cx="600.4" cy="276.5" rx="2.1" ry="1.2" transform="rotate(95 600.4 276.5)" fill="#7A8C3A"/><ellipse cx="659.2" cy="296.6" rx="1.5" ry="1.2" transform="rotate(19 659.2 296.6)" fill="#4F6826"/><ellipse cx="704.7" cy="303.5" rx="2.4" ry="1.6" transform="rotate(66 704.7 303.5)" fill="#5F742C"/><ellipse cx="611.9" cy="332.7" rx="2.0" ry="1.4" transform="rotate(47 611.9 332.7)" fill="#8A9A46"/><ellipse cx="651.2" cy="297.7" rx="1.1" ry="0.5" transform="rotate(21 651.2 297.7)" fill="#8A9A46"/><ellipse cx="651.8" cy="312.6" rx="2.4" ry="1.4" transform="rotate(2 651.8 312.6)" fill="#4F6826"/><ellipse cx="600.9" cy="286.0" rx="2.1" ry="1.7" transform="rotate(126 600.9 286.0)" fill="#6E8034"/><ellipse cx="693.7" cy="322.0" rx="1.4" ry="0.8" transform="rotate(168 693.7 322.0)" fill="#5F742C"/><ellipse cx="606.8" cy="323.2" rx="1.9" ry="1.3" transform="rotate(78 606.8 323.2)" fill="#8A9A46"/><ellipse cx="686.8" cy="313.9" rx="2.3" ry="1.5" transform="rotate(99 686.8 313.9)" fill="#7A8C3A"/><ellipse cx="667.3" cy="332.7" rx="1.9" ry="0.9" transform="rotate(116 667.3 332.7)" fill="#5F742C"/><ellipse cx="593.2" cy="308.7" rx="1.9" ry="1.1" transform="rotate(5 593.2 308.7)" fill="#7A8C3A"/><ellipse cx="683.1" cy="330.3" rx="1.0" ry="0.6" transform="rotate(139 683.1 330.3)" fill="#7A8C3A"/><ellipse cx="602.0" cy="276.1" rx="2.2" ry="1.1" transform="rotate(162 602.0 276.1)" fill="#8A9A46"/><ellipse cx="706.7" cy="301.7" rx="2.2" ry="1.8" transform="rotate(133 706.7 301.7)" fill="#4F6826"/><ellipse cx="638.4" cy="304.4" rx="1.5" ry="1.2" transform="rotate(126 638.4 304.4)" fill="#8A9A46"/><ellipse cx="659.8" cy="330.4" rx="1.0" ry="0.9" transform="rotate(105 659.8 330.4)" fill="#7A8C3A"/><ellipse cx="656.4" cy="310.6" rx="0.9" ry="0.8" transform="rotate(28 656.4 310.6)" fill="#8A9A46"/><ellipse cx="650.3" cy="301.5" rx="1.2" ry="1.1" transform="rotate(96 650.3 301.5)" fill="#5F742C"/><ellipse cx="645.7" cy="309.7" rx="1.4" ry="1.0" transform="rotate(29 645.7 309.7)" fill="#6E8034"/><ellipse cx="658.8" cy="330.0" rx="1.5" ry="0.8" transform="rotate(55 658.8 330.0)" fill="#5F742C"/><ellipse cx="674.1" cy="315.0" rx="1.7" ry="1.0" transform="rotate(47 674.1 315.0)" fill="#7A8C3A"/><ellipse cx="717.9" cy="300.2" rx="2.5" ry="1.9" transform="rotate(140 717.9 300.2)" fill="#8A9A46"/><ellipse cx="638.9" cy="311.1" rx="2.6" ry="2.3" transform="rotate(102 638.9 311.1)" fill="#4F6826"/><ellipse cx="665.4" cy="308.7" rx="1.4" ry="1.1" transform="rotate(60 665.4 308.7)" fill="#6E8034"/><ellipse cx="719.4" cy="303.8" rx="1.3" ry="1.0" transform="rotate(40 719.4 303.8)" fill="#4F6826"/><ellipse cx="649.5" cy="327.9" rx="1.2" ry="0.6" transform="rotate(158 649.5 327.9)" fill="#7A8C3A"/><ellipse cx="628.1" cy="310.1" rx="1.2" ry="0.5" transform="rotate(38 628.1 310.1)" fill="#5F742C"/><ellipse cx="628.6" cy="323.7" rx="1.1" ry="0.9" transform="rotate(21 628.6 323.7)" fill="#4F6826"/><ellipse cx="726.6" cy="314.0" rx="2.4" ry="1.1" transform="rotate(48 726.6 314.0)" fill="#8A9A46"/><ellipse cx="649.6" cy="338.8" rx="1.1" ry="0.6" transform="rotate(139 649.6 338.8)" fill="#4F6826"/><ellipse cx="649.1" cy="307.1" rx="2.6" ry="1.6" transform="rotate(103 649.1 307.1)" fill="#8A9A46"/><ellipse cx="600.9" cy="292.9" rx="1.7" ry="1.1" transform="rotate(175 600.9 292.9)" fill="#6E8034"/><ellipse cx="610.1" cy="320.1" rx="2.1" ry="1.6" transform="rotate(3 610.1 320.1)" fill="#6E8034"/><ellipse cx="713.5" cy="323.4" rx="1.8" ry="1.3" transform="rotate(117 713.5 323.4)" fill="#8A9A46"/><ellipse cx="700.4" cy="334.2" rx="2.4" ry="2.2" transform="rotate(38 700.4 334.2)" fill="#5F742C"/><ellipse cx="631.5" cy="298.2" rx="1.9" ry="1.7" transform="rotate(100 631.5 298.2)" fill="#8A9A46"/><ellipse cx="617.0" cy="298.2" rx="1.1" ry="1.0" transform="rotate(144 617.0 298.2)" fill="#8A9A46"/><ellipse cx="657.2" cy="318.0" rx="1.7" ry="0.8" transform="rotate(36 657.2 318.0)" fill="#4F6826"/><ellipse cx="656.2" cy="322.8" rx="1.1" ry="0.6" transform="rotate(31 656.2 322.8)" fill="#6E8034"/><ellipse cx="652.0" cy="327.8" rx="1.5" ry="1.4" transform="rotate(35 652.0 327.8)" fill="#4F6826"/><ellipse cx="682.6" cy="327.5" rx="2.4" ry="1.6" transform="rotate(105 682.6 327.5)" fill="#4F6826"/><ellipse cx="679.1" cy="324.5" rx="2.0" ry="1.9" transform="rotate(62 679.1 324.5)" fill="#8A9A46"/><ellipse cx="684.4" cy="315.6" rx="0.9" ry="0.5" transform="rotate(78 684.4 315.6)" fill="#8A9A46"/><ellipse cx="644.0" cy="308.2" rx="2.3" ry="1.8" transform="rotate(40 644.0 308.2)" fill="#6E8034"/><ellipse cx="626.3" cy="310.4" rx="1.4" ry="0.9" transform="rotate(128 626.3 310.4)" fill="#5F742C"/><ellipse cx="663.4" cy="313.1" rx="1.3" ry="1.2" transform="rotate(50 663.4 313.1)" fill="#7A8C3A"/><ellipse cx="684.3" cy="328.2" rx="1.1" ry="0.8" transform="rotate(178 684.3 328.2)" fill="#4F6826"/><ellipse cx="716.3" cy="303.9" rx="2.2" ry="2.0" transform="rotate(139 716.3 303.9)" fill="#5F742C"/><ellipse cx="613.7" cy="314.8" rx="2.4" ry="1.1" transform="rotate(46 613.7 314.8)" fill="#4F6826"/><ellipse cx="698.1" cy="333.6" rx="2.5" ry="1.9" transform="rotate(4 698.1 333.6)" fill="#7A8C3A"/><ellipse cx="612.7" cy="300.9" rx="1.0" ry="0.6" transform="rotate(145 612.7 300.9)" fill="#7A8C3A"/><ellipse cx="648.0" cy="295.2" rx="1.1" ry="0.8" transform="rotate(85 648.0 295.2)" fill="#5F742C"/><ellipse cx="597.6" cy="328.8" rx="2.2" ry="1.4" transform="rotate(127 597.6 328.8)" fill="#5F742C"/><ellipse cx="675.8" cy="305.2" rx="1.6" ry="1.5" transform="rotate(144 675.8 305.2)" fill="#7A8C3A"/><ellipse cx="698.4" cy="326.4" rx="1.8" ry="1.5" transform="rotate(176 698.4 326.4)" fill="#4F6826"/><ellipse cx="648.5" cy="302.5" rx="1.9" ry="1.2" transform="rotate(133 648.5 302.5)" fill="#7A8C3A"/><ellipse cx="651.8" cy="337.8" rx="1.5" ry="0.9" transform="rotate(157 651.8 337.8)" fill="#6E8034"/><ellipse cx="718.7" cy="324.9" rx="2.0" ry="1.8" transform="rotate(17 718.7 324.9)" fill="#8A9A46"/><ellipse cx="624.9" cy="333.3" rx="1.3" ry="1.3" transform="rotate(121 624.9 333.3)" fill="#4F6826"/><ellipse cx="689.4" cy="309.5" rx="1.3" ry="1.0" transform="rotate(60 689.4 309.5)" fill="#8A9A46"/><ellipse cx="694.5" cy="335.4" rx="1.6" ry="1.0" transform="rotate(42 694.5 335.4)" fill="#7A8C3A"/><ellipse cx="621.7" cy="326.0" rx="1.9" ry="1.0" transform="rotate(33 621.7 326.0)" fill="#6E8034"/><ellipse cx="607.7" cy="310.3" rx="2.6" ry="1.6" transform="rotate(76 607.7 310.3)" fill="#6E8034"/><ellipse cx="593.4" cy="282.9" rx="1.7" ry="1.5" transform="rotate(101 593.4 282.9)" fill="#4F6826"/><ellipse cx="610.2" cy="321.9" rx="1.3" ry="0.6" transform="rotate(80 610.2 321.9)" fill="#8A9A46"/><ellipse cx="634.0" cy="307.4" rx="2.6" ry="2.3" transform="rotate(51 634.0 307.4)" fill="#4F6826"/><ellipse cx="632.2" cy="339.2" rx="2.5" ry="1.5" transform="rotate(90 632.2 339.2)" fill="#5F742C"/><ellipse cx="680.9" cy="322.3" rx="1.9" ry="1.5" transform="rotate(49 680.9 322.3)" fill="#7A8C3A"/><ellipse cx="629.2" cy="301.5" rx="2.5" ry="2.0" transform="rotate(113 629.2 301.5)" fill="#8A9A46"/><ellipse cx="693.0" cy="307.6" rx="1.4" ry="0.9" transform="rotate(169 693.0 307.6)" fill="#8A9A46"/><ellipse cx="622.3" cy="279.9" rx="2.1" ry="2.0" transform="rotate(112 622.3 279.9)" fill="#4F6826"/><ellipse cx="673.9" cy="310.3" rx="1.7" ry="0.8" transform="rotate(72 673.9 310.3)" fill="#7A8C3A"/><ellipse cx="615.6" cy="325.1" rx="1.0" ry="0.9" transform="rotate(8 615.6 325.1)" fill="#5F742C"/><ellipse cx="599.2" cy="328.3" rx="2.5" ry="2.0" transform="rotate(8 599.2 328.3)" fill="#8A9A46"/><ellipse cx="663.9" cy="307.9" rx="2.4" ry="2.0" transform="rotate(136 663.9 307.9)" fill="#7A8C3A"/><ellipse cx="614.9" cy="328.5" rx="1.2" ry="0.8" transform="rotate(171 614.9 328.5)" fill="#7A8C3A"/><ellipse cx="653.0" cy="328.0" rx="2.3" ry="1.3" transform="rotate(139 653.0 328.0)" fill="#5F742C"/></g>
<g opacity="0.9"><ellipse cx="679.8" cy="409.1" rx="1.4" ry="1.0" transform="rotate(46 679.8 409.1)" fill="#6E8034"/><ellipse cx="734.2" cy="408.5" rx="0.7" ry="0.5" transform="rotate(139 734.2 408.5)" fill="#5F742C"/><ellipse cx="698.7" cy="411.8" rx="1.2" ry="1.0" transform="rotate(134 698.7 411.8)" fill="#8A9A46"/><ellipse cx="623.5" cy="512.8" rx="1.4" ry="0.7" transform="rotate(116 623.5 512.8)" fill="#5F742C"/><ellipse cx="683.9" cy="417.2" rx="1.3" ry="0.9" transform="rotate(19 683.9 417.2)" fill="#4F6826"/><ellipse cx="622.1" cy="527.2" rx="1.1" ry="1.0" transform="rotate(93 622.1 527.2)" fill="#6E8034"/><ellipse cx="628.4" cy="488.3" rx="1.9" ry="1.4" transform="rotate(151 628.4 488.3)" fill="#8A9A46"/><ellipse cx="636.4" cy="458.5" rx="0.7" ry="0.4" transform="rotate(47 636.4 458.5)" fill="#4F6826"/><ellipse cx="612.7" cy="508.8" rx="1.6" ry="1.3" transform="rotate(30 612.7 508.8)" fill="#5F742C"/><ellipse cx="662.4" cy="416.0" rx="1.7" ry="1.0" transform="rotate(132 662.4 416.0)" fill="#8A9A46"/><ellipse cx="632.5" cy="478.0" rx="0.8" ry="0.5" transform="rotate(108 632.5 478.0)" fill="#5F742C"/><ellipse cx="672.3" cy="423.7" rx="1.3" ry="0.7" transform="rotate(74 672.3 423.7)" fill="#8A9A46"/><ellipse cx="625.3" cy="526.1" rx="1.6" ry="1.2" transform="rotate(76 625.3 526.1)" fill="#4F6826"/><ellipse cx="704.4" cy="413.6" rx="1.7" ry="1.4" transform="rotate(170 704.4 413.6)" fill="#7A8C3A"/><ellipse cx="622.6" cy="515.6" rx="1.1" ry="0.5" transform="rotate(109 622.6 515.6)" fill="#8A9A46"/><ellipse cx="622.2" cy="475.0" rx="1.2" ry="0.7" transform="rotate(71 622.2 475.0)" fill="#8A9A46"/><ellipse cx="622.3" cy="535.0" rx="1.8" ry="0.9" transform="rotate(126 622.3 535.0)" fill="#8A9A46"/><ellipse cx="740.4" cy="408.5" rx="1.5" ry="1.3" transform="rotate(160 740.4 408.5)" fill="#5F742C"/><ellipse cx="611.2" cy="482.2" rx="1.4" ry="0.8" transform="rotate(118 611.2 482.2)" fill="#6E8034"/><ellipse cx="742.3" cy="409.5" rx="0.8" ry="0.5" transform="rotate(126 742.3 409.5)" fill="#7A8C3A"/><ellipse cx="641.9" cy="450.8" rx="0.8" ry="0.7" transform="rotate(16 641.9 450.8)" fill="#7A8C3A"/><ellipse cx="707.2" cy="409.8" rx="1.4" ry="1.2" transform="rotate(13 707.2 409.8)" fill="#4F6826"/><ellipse cx="635.1" cy="485.2" rx="0.8" ry="0.6" transform="rotate(32 635.1 485.2)" fill="#4F6826"/><ellipse cx="624.3" cy="503.0" rx="1.1" ry="0.7" transform="rotate(173 624.3 503.0)" fill="#4F6826"/><ellipse cx="620.3" cy="538.4" rx="0.9" ry="0.6" transform="rotate(38 620.3 538.4)" fill="#4F6826"/><ellipse cx="638.6" cy="473.4" rx="1.1" ry="0.8" transform="rotate(38 638.6 473.4)" fill="#8A9A46"/><ellipse cx="613.8" cy="532.5" rx="1.0" ry="0.5" transform="rotate(86 613.8 532.5)" fill="#6E8034"/><ellipse cx="612.8" cy="483.3" rx="1.5" ry="0.8" transform="rotate(48 612.8 483.3)" fill="#7A8C3A"/><ellipse cx="619.3" cy="540.9" rx="1.1" ry="0.6" transform="rotate(159 619.3 540.9)" fill="#4F6826"/><ellipse cx="607.6" cy="487.1" rx="0.9" ry="0.7" transform="rotate(129 607.6 487.1)" fill="#4F6826"/><ellipse cx="620.5" cy="546.2" rx="1.2" ry="0.8" transform="rotate(45 620.5 546.2)" fill="#5F742C"/><ellipse cx="727.5" cy="414.1" rx="1.1" ry="1.0" transform="rotate(91 727.5 414.1)" fill="#8A9A46"/><ellipse cx="742.5" cy="412.0" rx="1.4" ry="1.3" transform="rotate(160 742.5 412.0)" fill="#8A9A46"/><ellipse cx="610.5" cy="536.5" rx="1.3" ry="0.9" transform="rotate(151 610.5 536.5)" fill="#4F6826"/><ellipse cx="653.9" cy="440.9" rx="1.4" ry="1.2" transform="rotate(141 653.9 440.9)" fill="#5F742C"/><ellipse cx="623.3" cy="546.6" rx="1.2" ry="0.7" transform="rotate(166 623.3 546.6)" fill="#5F742C"/><ellipse cx="642.3" cy="441.7" rx="0.8" ry="0.7" transform="rotate(64 642.3 441.7)" fill="#6E8034"/><ellipse cx="620.3" cy="467.4" rx="1.6" ry="0.8" transform="rotate(127 620.3 467.4)" fill="#5F742C"/><ellipse cx="659.6" cy="418.4" rx="0.6" ry="0.6" transform="rotate(56 659.6 418.4)" fill="#8A9A46"/><ellipse cx="631.6" cy="460.0" rx="1.7" ry="1.2" transform="rotate(125 631.6 460.0)" fill="#7A8C3A"/><ellipse cx="658.3" cy="432.2" rx="1.9" ry="1.5" transform="rotate(92 658.3 432.2)" fill="#5F742C"/><ellipse cx="644.4" cy="457.9" rx="1.4" ry="0.9" transform="rotate(129 644.4 457.9)" fill="#8A9A46"/><ellipse cx="678.9" cy="420.9" rx="0.8" ry="0.7" transform="rotate(20 678.9 420.9)" fill="#8A9A46"/><ellipse cx="672.2" cy="413.2" rx="1.1" ry="0.8" transform="rotate(168 672.2 413.2)" fill="#8A9A46"/><ellipse cx="641.2" cy="463.3" rx="0.8" ry="0.5" transform="rotate(71 641.2 463.3)" fill="#8A9A46"/><ellipse cx="687.0" cy="418.3" rx="1.8" ry="1.5" transform="rotate(4 687.0 418.3)" fill="#6E8034"/><ellipse cx="607.5" cy="495.2" rx="1.2" ry="0.6" transform="rotate(129 607.5 495.2)" fill="#8A9A46"/><ellipse cx="660.2" cy="424.6" rx="1.1" ry="0.5" transform="rotate(166 660.2 424.6)" fill="#6E8034"/><ellipse cx="627.7" cy="457.4" rx="1.1" ry="0.5" transform="rotate(105 627.7 457.4)" fill="#6E8034"/><ellipse cx="620.9" cy="517.6" rx="1.0" ry="0.7" transform="rotate(17 620.9 517.6)" fill="#7A8C3A"/><ellipse cx="617.4" cy="477.8" rx="1.0" ry="0.6" transform="rotate(105 617.4 477.8)" fill="#5F742C"/><ellipse cx="636.6" cy="481.3" rx="1.5" ry="0.9" transform="rotate(125 636.6 481.3)" fill="#4F6826"/><ellipse cx="618.8" cy="494.1" rx="0.9" ry="0.5" transform="rotate(94 618.8 494.1)" fill="#7A8C3A"/><ellipse cx="616.8" cy="518.0" rx="1.1" ry="0.7" transform="rotate(29 616.8 518.0)" fill="#4F6826"/><ellipse cx="611.5" cy="524.3" rx="0.7" ry="0.4" transform="rotate(82 611.5 524.3)" fill="#7A8C3A"/><ellipse cx="718.6" cy="411.6" rx="0.7" ry="0.5" transform="rotate(108 718.6 411.6)" fill="#8A9A46"/><ellipse cx="617.6" cy="486.4" rx="0.7" ry="0.7" transform="rotate(64 617.6 486.4)" fill="#4F6826"/><ellipse cx="701.6" cy="412.2" rx="1.6" ry="1.0" transform="rotate(21 701.6 412.2)" fill="#6E8034"/><ellipse cx="701.1" cy="407.2" rx="1.8" ry="1.3" transform="rotate(1 701.1 407.2)" fill="#5F742C"/><ellipse cx="735.9" cy="418.0" rx="1.0" ry="0.9" transform="rotate(31 735.9 418.0)" fill="#5F742C"/><ellipse cx="606.2" cy="522.5" rx="1.4" ry="1.1" transform="rotate(133 606.2 522.5)" fill="#4F6826"/><ellipse cx="617.7" cy="474.5" rx="1.4" ry="1.2" transform="rotate(147 617.7 474.5)" fill="#8A9A46"/><ellipse cx="610.9" cy="536.7" rx="1.6" ry="1.0" transform="rotate(54 610.9 536.7)" fill="#8A9A46"/><ellipse cx="609.3" cy="504.6" rx="1.3" ry="0.9" transform="rotate(125 609.3 504.6)" fill="#7A8C3A"/><ellipse cx="627.0" cy="540.9" rx="1.6" ry="0.8" transform="rotate(39 627.0 540.9)" fill="#8A9A46"/><ellipse cx="622.4" cy="514.1" rx="1.4" ry="1.1" transform="rotate(93 622.4 514.1)" fill="#8A9A46"/><ellipse cx="620.6" cy="517.4" rx="1.6" ry="1.4" transform="rotate(67 620.6 517.4)" fill="#7A8C3A"/><ellipse cx="630.2" cy="532.1" rx="1.5" ry="0.8" transform="rotate(33 630.2 532.1)" fill="#8A9A46"/><ellipse cx="608.4" cy="518.3" rx="1.8" ry="1.6" transform="rotate(40 608.4 518.3)" fill="#5F742C"/><ellipse cx="738.6" cy="414.9" rx="1.3" ry="1.2" transform="rotate(168 738.6 414.9)" fill="#7A8C3A"/><ellipse cx="625.4" cy="540.7" rx="1.5" ry="0.7" transform="rotate(146 625.4 540.7)" fill="#5F742C"/><ellipse cx="625.7" cy="533.9" rx="1.9" ry="1.3" transform="rotate(111 625.7 533.9)" fill="#7A8C3A"/><ellipse cx="677.9" cy="415.3" rx="1.2" ry="1.1" transform="rotate(143 677.9 415.3)" fill="#7A8C3A"/><ellipse cx="617.5" cy="533.5" rx="0.9" ry="0.7" transform="rotate(38 617.5 533.5)" fill="#5F742C"/><ellipse cx="617.1" cy="478.8" rx="1.8" ry="0.9" transform="rotate(76 617.1 478.8)" fill="#6E8034"/><ellipse cx="606.3" cy="514.9" rx="0.9" ry="0.6" transform="rotate(85 606.3 514.9)" fill="#7A8C3A"/><ellipse cx="636.1" cy="469.0" rx="0.9" ry="0.5" transform="rotate(173 636.1 469.0)" fill="#8A9A46"/><ellipse cx="639.3" cy="447.4" rx="1.0" ry="0.8" transform="rotate(63 639.3 447.4)" fill="#5F742C"/><ellipse cx="686.1" cy="415.3" rx="1.6" ry="1.1" transform="rotate(11 686.1 415.3)" fill="#5F742C"/><ellipse cx="662.8" cy="423.5" rx="1.6" ry="1.0" transform="rotate(52 662.8 423.5)" fill="#5F742C"/><ellipse cx="625.5" cy="506.9" rx="1.8" ry="1.0" transform="rotate(179 625.5 506.9)" fill="#5F742C"/><ellipse cx="746.7" cy="414.3" rx="0.8" ry="0.7" transform="rotate(31 746.7 414.3)" fill="#8A9A46"/><ellipse cx="650.7" cy="430.3" rx="0.8" ry="0.5" transform="rotate(145 650.7 430.3)" fill="#7A8C3A"/><ellipse cx="703.3" cy="406.4" rx="1.8" ry="1.0" transform="rotate(84 703.3 406.4)" fill="#7A8C3A"/><ellipse cx="656.0" cy="428.0" rx="1.9" ry="1.1" transform="rotate(158 656.0 428.0)" fill="#8A9A46"/><ellipse cx="676.9" cy="420.1" rx="1.6" ry="1.2" transform="rotate(175 676.9 420.1)" fill="#7A8C3A"/><ellipse cx="617.7" cy="475.6" rx="1.2" ry="1.1" transform="rotate(71 617.7 475.6)" fill="#5F742C"/><ellipse cx="685.9" cy="411.2" rx="1.0" ry="0.5" transform="rotate(102 685.9 411.2)" fill="#6E8034"/><ellipse cx="656.1" cy="432.3" rx="0.9" ry="0.7" transform="rotate(170 656.1 432.3)" fill="#4F6826"/><ellipse cx="630.8" cy="521.3" rx="1.0" ry="0.5" transform="rotate(5 630.8 521.3)" fill="#5F742C"/><ellipse cx="643.5" cy="445.5" rx="1.1" ry="0.6" transform="rotate(177 643.5 445.5)" fill="#8A9A46"/><ellipse cx="609.9" cy="531.2" rx="1.2" ry="0.7" transform="rotate(158 609.9 531.2)" fill="#5F742C"/><ellipse cx="645.5" cy="431.0" rx="1.4" ry="0.9" transform="rotate(13 645.5 431.0)" fill="#6E8034"/><ellipse cx="654.7" cy="444.2" rx="1.3" ry="0.6" transform="rotate(24 654.7 444.2)" fill="#4F6826"/><ellipse cx="642.0" cy="432.7" rx="1.4" ry="0.9" transform="rotate(101 642.0 432.7)" fill="#5F742C"/><ellipse cx="639.8" cy="472.2" rx="1.8" ry="1.2" transform="rotate(121 639.8 472.2)" fill="#6E8034"/><ellipse cx="620.2" cy="472.4" rx="1.8" ry="1.3" transform="rotate(0 620.2 472.4)" fill="#6E8034"/><ellipse cx="670.5" cy="422.4" rx="1.2" ry="1.0" transform="rotate(62 670.5 422.4)" fill="#7A8C3A"/><ellipse cx="611.1" cy="506.3" rx="0.8" ry="0.6" transform="rotate(103 611.1 506.3)" fill="#6E8034"/><ellipse cx="620.1" cy="541.3" rx="1.7" ry="1.6" transform="rotate(80 620.1 541.3)" fill="#4F6826"/><ellipse cx="644.7" cy="433.8" rx="1.5" ry="1.0" transform="rotate(80 644.7 433.8)" fill="#5F742C"/><ellipse cx="617.5" cy="509.8" rx="1.4" ry="1.0" transform="rotate(96 617.5 509.8)" fill="#7A8C3A"/><ellipse cx="738.7" cy="414.8" rx="0.9" ry="0.7" transform="rotate(153 738.7 414.8)" fill="#5F742C"/><ellipse cx="613.1" cy="487.9" rx="1.7" ry="0.8" transform="rotate(86 613.1 487.9)" fill="#4F6826"/><ellipse cx="629.4" cy="494.1" rx="1.8" ry="1.0" transform="rotate(107 629.4 494.1)" fill="#4F6826"/><ellipse cx="669.8" cy="411.5" rx="0.6" ry="0.5" transform="rotate(176 669.8 411.5)" fill="#7A8C3A"/><ellipse cx="659.2" cy="435.1" rx="1.5" ry="1.0" transform="rotate(137 659.2 435.1)" fill="#5F742C"/><ellipse cx="648.3" cy="451.6" rx="1.4" ry="1.1" transform="rotate(86 648.3 451.6)" fill="#8A9A46"/><ellipse cx="608.2" cy="536.1" rx="1.6" ry="1.2" transform="rotate(91 608.2 536.1)" fill="#8A9A46"/><ellipse cx="638.0" cy="436.1" rx="1.4" ry="1.1" transform="rotate(87 638.0 436.1)" fill="#5F742C"/><ellipse cx="676.8" cy="412.5" rx="1.2" ry="1.1" transform="rotate(16 676.8 412.5)" fill="#6E8034"/><ellipse cx="747.0" cy="407.5" rx="1.0" ry="0.6" transform="rotate(125 747.0 407.5)" fill="#7A8C3A"/><ellipse cx="607.2" cy="504.4" rx="0.8" ry="0.4" transform="rotate(39 607.2 504.4)" fill="#8A9A46"/><ellipse cx="648.4" cy="441.6" rx="0.6" ry="0.4" transform="rotate(44 648.4 441.6)" fill="#8A9A46"/><ellipse cx="647.4" cy="431.5" rx="1.7" ry="1.4" transform="rotate(177 647.4 431.5)" fill="#7A8C3A"/><ellipse cx="617.8" cy="476.2" rx="0.9" ry="0.8" transform="rotate(49 617.8 476.2)" fill="#7A8C3A"/><ellipse cx="626.5" cy="460.1" rx="1.4" ry="1.0" transform="rotate(111 626.5 460.1)" fill="#6E8034"/><ellipse cx="612.5" cy="506.2" rx="0.7" ry="0.5" transform="rotate(55 612.5 506.2)" fill="#5F742C"/><ellipse cx="605.9" cy="507.9" rx="1.8" ry="0.9" transform="rotate(79 605.9 507.9)" fill="#7A8C3A"/><ellipse cx="688.9" cy="418.6" rx="1.4" ry="0.8" transform="rotate(57 688.9 418.6)" fill="#8A9A46"/><ellipse cx="719.3" cy="412.2" rx="0.6" ry="0.5" transform="rotate(162 719.3 412.2)" fill="#5F742C"/><ellipse cx="652.8" cy="441.3" rx="1.7" ry="1.0" transform="rotate(29 652.8 441.3)" fill="#5F742C"/><ellipse cx="610.6" cy="485.1" rx="1.1" ry="0.7" transform="rotate(165 610.6 485.1)" fill="#8A9A46"/><ellipse cx="632.2" cy="475.3" rx="1.9" ry="1.4" transform="rotate(69 632.2 475.3)" fill="#5F742C"/><ellipse cx="640.1" cy="445.7" rx="1.7" ry="1.6" transform="rotate(171 640.1 445.7)" fill="#6E8034"/><ellipse cx="605.7" cy="498.8" rx="1.4" ry="1.0" transform="rotate(124 605.7 498.8)" fill="#5F742C"/><ellipse cx="714.1" cy="415.2" rx="1.7" ry="0.9" transform="rotate(98 714.1 415.2)" fill="#6E8034"/><ellipse cx="611.8" cy="522.8" rx="0.8" ry="0.6" transform="rotate(7 611.8 522.8)" fill="#5F742C"/><ellipse cx="626.0" cy="506.7" rx="0.8" ry="0.6" transform="rotate(9 626.0 506.7)" fill="#8A9A46"/><ellipse cx="631.4" cy="468.8" rx="1.2" ry="0.9" transform="rotate(43 631.4 468.8)" fill="#6E8034"/><ellipse cx="614.7" cy="523.0" rx="1.6" ry="0.9" transform="rotate(145 614.7 523.0)" fill="#4F6826"/><ellipse cx="628.4" cy="519.2" rx="1.7" ry="1.6" transform="rotate(10 628.4 519.2)" fill="#6E8034"/><ellipse cx="644.1" cy="446.8" rx="0.9" ry="0.7" transform="rotate(164 644.1 446.8)" fill="#6E8034"/><ellipse cx="632.2" cy="460.6" rx="1.7" ry="0.9" transform="rotate(30 632.2 460.6)" fill="#8A9A46"/><ellipse cx="625.8" cy="462.1" rx="1.3" ry="1.1" transform="rotate(167 625.8 462.1)" fill="#5F742C"/><ellipse cx="613.4" cy="494.5" rx="1.0" ry="0.9" transform="rotate(99 613.4 494.5)" fill="#8A9A46"/><ellipse cx="633.1" cy="468.4" rx="1.7" ry="1.0" transform="rotate(93 633.1 468.4)" fill="#6E8034"/><ellipse cx="681.1" cy="407.9" rx="1.2" ry="1.0" transform="rotate(45 681.1 407.9)" fill="#5F742C"/><ellipse cx="627.1" cy="516.7" rx="1.9" ry="1.0" transform="rotate(153 627.1 516.7)" fill="#5F742C"/><ellipse cx="666.9" cy="430.4" rx="1.5" ry="1.2" transform="rotate(91 666.9 430.4)" fill="#7A8C3A"/><ellipse cx="751.1" cy="412.4" rx="0.7" ry="0.4" transform="rotate(173 751.1 412.4)" fill="#6E8034"/><ellipse cx="660.6" cy="420.3" rx="1.4" ry="1.0" transform="rotate(25 660.6 420.3)" fill="#6E8034"/><ellipse cx="613.7" cy="480.5" rx="0.8" ry="0.6" transform="rotate(88 613.7 480.5)" fill="#7A8C3A"/><ellipse cx="659.5" cy="418.0" rx="1.8" ry="0.9" transform="rotate(155 659.5 418.0)" fill="#8A9A46"/><ellipse cx="664.7" cy="415.4" rx="1.5" ry="1.0" transform="rotate(145 664.7 415.4)" fill="#5F742C"/><ellipse cx="605.7" cy="531.6" rx="1.2" ry="0.7" transform="rotate(29 605.7 531.6)" fill="#5F742C"/><ellipse cx="613.8" cy="501.2" rx="0.9" ry="0.5" transform="rotate(13 613.8 501.2)" fill="#4F6826"/><ellipse cx="615.4" cy="483.6" rx="1.9" ry="1.3" transform="rotate(52 615.4 483.6)" fill="#8A9A46"/><ellipse cx="631.1" cy="475.2" rx="1.0" ry="0.6" transform="rotate(164 631.1 475.2)" fill="#4F6826"/><ellipse cx="627.9" cy="469.9" rx="0.8" ry="0.7" transform="rotate(10 627.9 469.9)" fill="#6E8034"/><ellipse cx="630.0" cy="478.4" rx="1.7" ry="1.4" transform="rotate(62 630.0 478.4)" fill="#7A8C3A"/><ellipse cx="674.5" cy="421.0" rx="0.7" ry="0.4" transform="rotate(107 674.5 421.0)" fill="#5F742C"/><ellipse cx="608.6" cy="496.0" rx="1.6" ry="1.1" transform="rotate(3 608.6 496.0)" fill="#8A9A46"/><ellipse cx="623.1" cy="520.3" rx="0.7" ry="0.6" transform="rotate(128 623.1 520.3)" fill="#7A8C3A"/><ellipse cx="618.1" cy="463.1" rx="0.8" ry="0.6" transform="rotate(75 618.1 463.1)" fill="#8A9A46"/><ellipse cx="628.0" cy="480.3" rx="1.1" ry="0.9" transform="rotate(176 628.0 480.3)" fill="#7A8C3A"/><ellipse cx="631.6" cy="451.3" rx="1.5" ry="1.0" transform="rotate(65 631.6 451.3)" fill="#4F6826"/><ellipse cx="613.0" cy="471.1" rx="1.3" ry="0.7" transform="rotate(136 613.0 471.1)" fill="#7A8C3A"/><ellipse cx="742.5" cy="417.1" rx="0.6" ry="0.5" transform="rotate(23 742.5 417.1)" fill="#5F742C"/><ellipse cx="616.1" cy="465.3" rx="1.8" ry="0.8" transform="rotate(81 616.1 465.3)" fill="#8A9A46"/><ellipse cx="723.4" cy="412.5" rx="1.5" ry="1.0" transform="rotate(45 723.4 412.5)" fill="#7A8C3A"/><ellipse cx="632.0" cy="453.1" rx="1.2" ry="0.6" transform="rotate(21 632.0 453.1)" fill="#5F742C"/><ellipse cx="634.4" cy="458.5" rx="1.2" ry="1.0" transform="rotate(77 634.4 458.5)" fill="#6E8034"/><ellipse cx="618.5" cy="526.7" rx="1.0" ry="0.5" transform="rotate(77 618.5 526.7)" fill="#5F742C"/><ellipse cx="741.4" cy="414.9" rx="1.4" ry="0.8" transform="rotate(106 741.4 414.9)" fill="#8A9A46"/><ellipse cx="728.6" cy="414.3" rx="0.9" ry="0.6" transform="rotate(58 728.6 414.3)" fill="#7A8C3A"/><ellipse cx="650.7" cy="442.9" rx="1.0" ry="0.7" transform="rotate(94 650.7 442.9)" fill="#7A8C3A"/><ellipse cx="606.6" cy="501.1" rx="1.0" ry="0.9" transform="rotate(23 606.6 501.1)" fill="#4F6826"/><ellipse cx="649.1" cy="446.9" rx="0.7" ry="0.6" transform="rotate(152 649.1 446.9)" fill="#6E8034"/><ellipse cx="607.0" cy="530.6" rx="1.1" ry="0.8" transform="rotate(41 607.0 530.6)" fill="#4F6826"/><ellipse cx="734.4" cy="411.5" rx="1.6" ry="1.1" transform="rotate(143 734.4 411.5)" fill="#7A8C3A"/><ellipse cx="742.1" cy="411.1" rx="1.2" ry="0.6" transform="rotate(148 742.1 411.1)" fill="#4F6826"/><ellipse cx="629.0" cy="485.1" rx="0.8" ry="0.4" transform="rotate(162 629.0 485.1)" fill="#4F6826"/><ellipse cx="616.3" cy="506.1" rx="1.6" ry="1.2" transform="rotate(179 616.3 506.1)" fill="#6E8034"/><ellipse cx="684.2" cy="408.8" rx="1.2" ry="0.7" transform="rotate(148 684.2 408.8)" fill="#8A9A46"/><ellipse cx="622.9" cy="468.2" rx="1.0" ry="0.5" transform="rotate(85 622.9 468.2)" fill="#7A8C3A"/><ellipse cx="623.5" cy="454.6" rx="1.8" ry="1.7" transform="rotate(154 623.5 454.6)" fill="#8A9A46"/><ellipse cx="615.3" cy="509.4" rx="1.7" ry="0.8" transform="rotate(15 615.3 509.4)" fill="#6E8034"/><ellipse cx="611.2" cy="488.2" rx="1.5" ry="1.2" transform="rotate(177 611.2 488.2)" fill="#5F742C"/><ellipse cx="670.1" cy="412.5" rx="1.9" ry="1.5" transform="rotate(103 670.1 412.5)" fill="#4F6826"/><ellipse cx="687.3" cy="419.6" rx="0.6" ry="0.6" transform="rotate(58 687.3 419.6)" fill="#4F6826"/><ellipse cx="624.9" cy="543.4" rx="1.7" ry="1.5" transform="rotate(173 624.9 543.4)" fill="#7A8C3A"/><ellipse cx="650.6" cy="429.2" rx="0.7" ry="0.4" transform="rotate(13 650.6 429.2)" fill="#6E8034"/><ellipse cx="612.0" cy="471.2" rx="1.2" ry="1.1" transform="rotate(118 612.0 471.2)" fill="#6E8034"/><ellipse cx="622.9" cy="490.1" rx="1.1" ry="0.7" transform="rotate(175 622.9 490.1)" fill="#6E8034"/><ellipse cx="633.7" cy="480.4" rx="0.9" ry="0.6" transform="rotate(106 633.7 480.4)" fill="#6E8034"/><ellipse cx="716.6" cy="412.0" rx="0.8" ry="0.7" transform="rotate(136 716.6 412.0)" fill="#6E8034"/><ellipse cx="637.2" cy="447.6" rx="1.4" ry="1.2" transform="rotate(143 637.2 447.6)" fill="#8A9A46"/><ellipse cx="729.2" cy="416.9" rx="1.4" ry="0.9" transform="rotate(131 729.2 416.9)" fill="#6E8034"/><ellipse cx="613.2" cy="531.7" rx="1.7" ry="1.5" transform="rotate(126 613.2 531.7)" fill="#4F6826"/><ellipse cx="608.2" cy="504.8" rx="0.7" ry="0.3" transform="rotate(119 608.2 504.8)" fill="#7A8C3A"/><ellipse cx="659.8" cy="431.4" rx="0.6" ry="0.5" transform="rotate(150 659.8 431.4)" fill="#6E8034"/><ellipse cx="650.6" cy="431.1" rx="1.2" ry="0.5" transform="rotate(155 650.6 431.1)" fill="#4F6826"/><ellipse cx="679.5" cy="419.4" rx="0.9" ry="0.4" transform="rotate(94 679.5 419.4)" fill="#4F6826"/><ellipse cx="629.9" cy="502.3" rx="0.6" ry="0.5" transform="rotate(91 629.9 502.3)" fill="#8A9A46"/><ellipse cx="611.0" cy="540.5" rx="0.9" ry="0.5" transform="rotate(136 611.0 540.5)" fill="#5F742C"/><ellipse cx="619.1" cy="510.5" rx="1.2" ry="0.7" transform="rotate(100 619.1 510.5)" fill="#6E8034"/><ellipse cx="640.6" cy="468.6" rx="0.8" ry="0.4" transform="rotate(50 640.6 468.6)" fill="#4F6826"/><ellipse cx="623.0" cy="526.4" rx="0.9" ry="0.6" transform="rotate(88 623.0 526.4)" fill="#6E8034"/><ellipse cx="622.3" cy="538.7" rx="1.7" ry="1.6" transform="rotate(60 622.3 538.7)" fill="#4F6826"/><ellipse cx="629.8" cy="508.5" rx="1.8" ry="1.7" transform="rotate(62 629.8 508.5)" fill="#5F742C"/><ellipse cx="676.4" cy="420.5" rx="1.4" ry="0.8" transform="rotate(6 676.4 420.5)" fill="#5F742C"/><ellipse cx="625.9" cy="474.7" rx="0.6" ry="0.5" transform="rotate(169 625.9 474.7)" fill="#5F742C"/><ellipse cx="613.7" cy="501.4" rx="1.8" ry="1.4" transform="rotate(142 613.7 501.4)" fill="#7A8C3A"/><ellipse cx="690.5" cy="413.4" rx="1.2" ry="1.0" transform="rotate(122 690.5 413.4)" fill="#6E8034"/><ellipse cx="671.0" cy="411.9" rx="1.6" ry="1.2" transform="rotate(37 671.0 411.9)" fill="#7A8C3A"/><ellipse cx="624.9" cy="477.2" rx="1.5" ry="0.8" transform="rotate(19 624.9 477.2)" fill="#6E8034"/><ellipse cx="700.1" cy="410.9" rx="0.9" ry="0.4" transform="rotate(34 700.1 410.9)" fill="#4F6826"/><ellipse cx="611.1" cy="484.5" rx="1.1" ry="0.6" transform="rotate(52 611.1 484.5)" fill="#7A8C3A"/><ellipse cx="636.2" cy="463.3" rx="0.7" ry="0.4" transform="rotate(3 636.2 463.3)" fill="#4F6826"/><ellipse cx="643.9" cy="432.4" rx="1.6" ry="1.4" transform="rotate(88 643.9 432.4)" fill="#5F742C"/><ellipse cx="629.6" cy="484.2" rx="0.6" ry="0.4" transform="rotate(29 629.6 484.2)" fill="#6E8034"/><ellipse cx="619.2" cy="491.0" rx="1.0" ry="0.9" transform="rotate(57 619.2 491.0)" fill="#4F6826"/><ellipse cx="605.1" cy="499.2" rx="0.8" ry="0.6" transform="rotate(175 605.1 499.2)" fill="#5F742C"/><ellipse cx="689.1" cy="417.0" rx="1.5" ry="1.0" transform="rotate(123 689.1 417.0)" fill="#6E8034"/><ellipse cx="615.8" cy="517.1" rx="1.9" ry="1.2" transform="rotate(73 615.8 517.1)" fill="#8A9A46"/><ellipse cx="735.8" cy="410.7" rx="1.4" ry="0.9" transform="rotate(126 735.8 410.7)" fill="#4F6826"/><ellipse cx="640.5" cy="457.6" rx="1.2" ry="0.8" transform="rotate(109 640.5 457.6)" fill="#6E8034"/><ellipse cx="632.5" cy="476.8" rx="1.5" ry="0.7" transform="rotate(150 632.5 476.8)" fill="#5F742C"/><ellipse cx="665.9" cy="413.9" rx="1.7" ry="0.9" transform="rotate(90 665.9 413.9)" fill="#4F6826"/><ellipse cx="620.0" cy="474.9" rx="0.9" ry="0.6" transform="rotate(152 620.0 474.9)" fill="#8A9A46"/><ellipse cx="627.7" cy="494.7" rx="0.8" ry="0.7" transform="rotate(6 627.7 494.7)" fill="#5F742C"/><ellipse cx="624.8" cy="484.3" rx="1.0" ry="0.8" transform="rotate(126 624.8 484.3)" fill="#6E8034"/><ellipse cx="704.8" cy="410.6" rx="1.6" ry="1.1" transform="rotate(5 704.8 410.6)" fill="#6E8034"/><ellipse cx="619.6" cy="499.2" rx="0.9" ry="0.5" transform="rotate(111 619.6 499.2)" fill="#7A8C3A"/><ellipse cx="640.4" cy="447.7" rx="1.5" ry="0.9" transform="rotate(80 640.4 447.7)" fill="#5F742C"/><ellipse cx="681.0" cy="413.6" rx="1.3" ry="1.1" transform="rotate(149 681.0 413.6)" fill="#6E8034"/><ellipse cx="624.8" cy="534.0" rx="1.9" ry="1.6" transform="rotate(167 624.8 534.0)" fill="#8A9A46"/><ellipse cx="737.8" cy="413.9" rx="1.0" ry="0.9" transform="rotate(45 737.8 413.9)" fill="#7A8C3A"/><ellipse cx="614.4" cy="486.2" rx="1.8" ry="1.1" transform="rotate(141 614.4 486.2)" fill="#7A8C3A"/></g>
<g opacity="0.9"><ellipse cx="788.9" cy="424.9" rx="1.8" ry="1.2" transform="rotate(52 788.9 424.9)" fill="#8A9A46"/><ellipse cx="812.0" cy="425.4" rx="0.8" ry="0.6" transform="rotate(65 812.0 425.4)" fill="#7A8C3A"/><ellipse cx="798.7" cy="419.3" rx="0.7" ry="0.6" transform="rotate(38 798.7 419.3)" fill="#7A8C3A"/><ellipse cx="806.4" cy="418.2" rx="1.1" ry="0.8" transform="rotate(179 806.4 418.2)" fill="#7A8C3A"/><ellipse cx="800.0" cy="428.5" rx="1.0" ry="0.8" transform="rotate(62 800.0 428.5)" fill="#8A9A46"/><ellipse cx="781.0" cy="423.5" rx="1.1" ry="0.9" transform="rotate(39 781.0 423.5)" fill="#6E8034"/><ellipse cx="785.9" cy="422.1" rx="1.0" ry="0.6" transform="rotate(41 785.9 422.1)" fill="#8A9A46"/><ellipse cx="784.1" cy="417.9" rx="1.7" ry="1.5" transform="rotate(126 784.1 417.9)" fill="#5F742C"/><ellipse cx="810.7" cy="434.1" rx="1.7" ry="0.9" transform="rotate(117 810.7 434.1)" fill="#4F6826"/><ellipse cx="775.2" cy="422.0" rx="1.1" ry="0.7" transform="rotate(125 775.2 422.0)" fill="#7A8C3A"/><ellipse cx="775.4" cy="423.3" rx="1.2" ry="0.9" transform="rotate(37 775.4 423.3)" fill="#6E8034"/><ellipse cx="815.0" cy="421.0" rx="1.5" ry="1.0" transform="rotate(114 815.0 421.0)" fill="#5F742C"/><ellipse cx="783.2" cy="425.6" rx="1.6" ry="1.0" transform="rotate(62 783.2 425.6)" fill="#8A9A46"/><ellipse cx="809.9" cy="427.9" rx="1.6" ry="1.2" transform="rotate(160 809.9 427.9)" fill="#6E8034"/><ellipse cx="780.2" cy="420.7" rx="0.9" ry="0.7" transform="rotate(95 780.2 420.7)" fill="#8A9A46"/><ellipse cx="806.9" cy="417.5" rx="0.8" ry="0.4" transform="rotate(35 806.9 417.5)" fill="#4F6826"/><ellipse cx="803.1" cy="417.5" rx="1.2" ry="0.8" transform="rotate(133 803.1 417.5)" fill="#7A8C3A"/><ellipse cx="786.2" cy="420.2" rx="1.5" ry="0.9" transform="rotate(27 786.2 420.2)" fill="#6E8034"/><ellipse cx="802.1" cy="425.6" rx="1.7" ry="1.1" transform="rotate(67 802.1 425.6)" fill="#6E8034"/><ellipse cx="818.0" cy="426.0" rx="1.5" ry="0.8" transform="rotate(26 818.0 426.0)" fill="#7A8C3A"/><ellipse cx="792.4" cy="428.9" rx="0.7" ry="0.5" transform="rotate(99 792.4 428.9)" fill="#8A9A46"/><ellipse cx="794.0" cy="420.3" rx="1.6" ry="1.3" transform="rotate(86 794.0 420.3)" fill="#7A8C3A"/><ellipse cx="774.8" cy="414.8" rx="1.8" ry="1.3" transform="rotate(12 774.8 414.8)" fill="#8A9A46"/><ellipse cx="796.8" cy="429.0" rx="0.8" ry="0.7" transform="rotate(160 796.8 429.0)" fill="#4F6826"/><ellipse cx="790.8" cy="428.4" rx="1.1" ry="0.9" transform="rotate(125 790.8 428.4)" fill="#5F742C"/><ellipse cx="791.7" cy="425.6" rx="0.8" ry="0.6" transform="rotate(159 791.7 425.6)" fill="#5F742C"/><ellipse cx="779.6" cy="424.5" rx="1.8" ry="1.1" transform="rotate(131 779.6 424.5)" fill="#7A8C3A"/><ellipse cx="789.8" cy="422.7" rx="1.5" ry="1.2" transform="rotate(43 789.8 422.7)" fill="#6E8034"/><ellipse cx="784.5" cy="426.2" rx="1.5" ry="1.1" transform="rotate(177 784.5 426.2)" fill="#6E8034"/><ellipse cx="808.1" cy="420.3" rx="0.8" ry="0.5" transform="rotate(127 808.1 420.3)" fill="#5F742C"/></g>
<g fill="#B5864A"><circle cx="580.5" cy="229.5" r="2"/><circle cx="584" cy="236" r="1.4"/><circle cx="588" cy="245" r="2.2"/><circle cx="592" cy="256" r="1.5"/><circle cx="597" cy="266" r="2"/><circle cx="586" cy="252" r="1.2"/></g>
<clipPath id="cDev"><path d="M469,117 C469,106.5 477,99.5 487,99.5 L495,99.5 C504,99.5 510,106 510,115 L510,202 C510,211 503,217.5 494,217.5 L488,217.5 C477,217.5 469,210 469,199 L469,186 C469,181 466,178.5 463,178 C460,177.5 459,176 459,172 L459,146 C459,142 460,140.5 463,140 C466,139.5 469,137 469,132Z"/></clipPath>
<path d="M469,117 C469,106.5 477,99.5 487,99.5 L495,99.5 C504,99.5 510,106 510,115 L510,202 C510,211 503,217.5 494,217.5 L488,217.5 C477,217.5 469,210 469,199 L469,186 C469,181 466,178.5 463,178 C460,177.5 459,176 459,172 L459,146 C459,142 460,140.5 463,140 C466,139.5 469,137 469,132Z" fill="#FFFFFF"/>
<rect x="490.5" y="90" width="30" height="140" fill="#DC0D0D" clip-path="url(#cDev)"/>
<path d="M469,117 C469,106.5 477,99.5 487,99.5 L495,99.5 C504,99.5 510,106 510,115 L510,202 C510,211 503,217.5 494,217.5 L488,217.5 C477,217.5 469,210 469,199 L469,186 C469,181 466,178.5 463,178 C460,177.5 459,176 459,172 L459,146 C459,142 460,140.5 463,140 C466,139.5 469,137 469,132Z" fill="none" stroke="#2A2A2A" stroke-width="1.6"/>
<path d="M490.5,99.5 L495,99.5 C504,99.5 510,106 510,115 L510,202 C510,211 503,217.5 494,217.5 L490.5,217.5" fill="none" stroke="#A3140E" stroke-width="1.8"/>
<path d="M338,391 L389,350 L391,352 L391,500 L388,503 L338,462Z" fill="#1468C9" stroke="#0F4E9C" stroke-width="2" stroke-linejoin="round"/>
<path d="M338,390.5 L322,390.5 C314,390.5 309.5,395 309.5,402 L309.5,416 M309.5,435 L309.5,448 C309.5,455 314,459.5 322,459.5 L338,459.5" fill="#FFFFFF" stroke="#333" stroke-width="2.8" stroke-linecap="round"/>
<rect x="312" y="392" width="25" height="66" fill="#FFFFFF"/>
<path d="M338,390.5 L322,390.5 C314,390.5 309.5,395 309.5,402 L309.5,416 M309.5,435 L309.5,448 C309.5,455 314,459.5 322,459.5 L338,459.5" fill="none" stroke="#333" stroke-width="2.8" stroke-linecap="round"/>
<path d="M288,446 L318,429" stroke="#444" stroke-width="2.4" stroke-linecap="round"/>
<path d="M262,429.6 L286,430" stroke="#444" stroke-width="2.5" stroke-linecap="round"/>
<path d="M391.0,416.5 C414.1,416.5 397.5,460.0 420.6,460.0 C439.4,460.0 425.9,407.5 444.7,407.5 C469.3,407.5 451.7,455.8 476.3,455.8 C493.9,455.8 481.2,404.5 498.8,404.5 C518.8,404.5 504.4,448.3 524.4,448.3 C542.0,448.3 529.4,401.5 547.0,401.5 C563.4,401.5 551.6,436.5 568.0,436.5 C584.4,436.5 572.6,398.5 589.0,398.5 C604.4,398.5 593.3,425.7 608.7,425.7 C622.7,425.7 612.7,391.0 626.7,391.0 C639.6,391.0 630.4,402.5 643.3,402.5 C657.3,402.5 647.3,374.6 661.3,374.6 C670.7,374.6 663.9,385.5 673.3,385.5 C686.3,385.5 677.0,365.6 690.0,365.6 C700.5,365.6 692.9,379.5 703.4,379.5 C714.0,379.5 706.4,359.6 717.0,359.6 C727.5,359.6 720.0,377.6 730.5,377.6 C737.5,377.6 732.5,367.0 739.5,367.0" fill="none" stroke="#9FE0F2" stroke-width="10" stroke-linecap="round" stroke-linejoin="round" opacity="0.85"/>
<path d="M391.0,416.5 C414.1,416.5 397.5,460.0 420.6,460.0 C439.4,460.0 425.9,407.5 444.7,407.5 C469.3,407.5 451.7,455.8 476.3,455.8 C493.9,455.8 481.2,404.5 498.8,404.5 C518.8,404.5 504.4,448.3 524.4,448.3 C542.0,448.3 529.4,401.5 547.0,401.5 C563.4,401.5 551.6,436.5 568.0,436.5 C584.4,436.5 572.6,398.5 589.0,398.5 C604.4,398.5 593.3,425.7 608.7,425.7 C622.7,425.7 612.7,391.0 626.7,391.0 C639.6,391.0 630.4,402.5 643.3,402.5 C657.3,402.5 647.3,374.6 661.3,374.6 C670.7,374.6 663.9,385.5 673.3,385.5 C686.3,385.5 677.0,365.6 690.0,365.6 C700.5,365.6 692.9,379.5 703.4,379.5 C714.0,379.5 706.4,359.6 717.0,359.6 C727.5,359.6 720.0,377.6 730.5,377.6 C737.5,377.6 732.5,367.0 739.5,367.0" fill="none" stroke="#1E83BA" stroke-width="6" stroke-linecap="round" stroke-linejoin="round"/>
<defs><linearGradient id="gRed" gradientUnits="userSpaceOnUse" x1="505" y1="0" x2="900" y2="0"><stop offset="0" stop-color="#D8140C"/><stop offset="0.12" stop-color="#C2200F"/><stop offset="0.55" stop-color="#C2200F"/><stop offset="0.7" stop-color="#E01410"/><stop offset="1" stop-color="#D0100C"/></linearGradient><linearGradient id="gGlowS" gradientUnits="userSpaceOnUse" x1="505" y1="0" x2="900" y2="0"><stop offset="0" stop-color="#FFF1EC" stop-opacity="0.35"/><stop offset="0.2" stop-color="#FFF1EC" stop-opacity="0.4"/><stop offset="0.3" stop-color="#FFF4F0" stop-opacity="0.95"/><stop offset="0.565" stop-color="#FFF4F0" stop-opacity="0.95"/><stop offset="0.6" stop-color="#FFF1EC" stop-opacity="0.12"/><stop offset="1" stop-color="#FFF1EC" stop-opacity="0.12"/></linearGradient><filter id="fGlow" x="-5%" y="-20%" width="110%" height="140%"><feGaussianBlur stdDeviation="2.2"/></filter></defs>
<path d="M510,177 C528,183 546,200 547,222 C548,238 536,245 540,250 C541,253 543,254 544.6,254.0 C558.6,254.0 558.8,234.3 570.8,234.3 C583.8,234.3 566.0,272.0 580.0,272.0 C594.0,272.0 590.8,248.0 602.8,248.0 C615.8,248.0 595.7,284.5 609.7,284.5 C623.7,284.5 620.5,259.4 632.5,259.4 C645.5,259.4 624.2,297.0 638.2,297.0 C652.2,297.0 648.0,269.7 660.0,269.7 C673.0,269.7 649.4,307.4 663.4,307.4 C677.4,307.4 675.3,280.0 687.3,280.0 C700.3,280.0 678.0,315.4 692.0,315.4 C706.0,315.4 705.0,288.0 717.0,288.0 C730.0,288.0 714.5,318.0 728.5,318.0 C745,320 770,325 807,324 C835,323 860,317 884,313" fill="none" stroke="url(#gGlowS)" stroke-width="16" stroke-linecap="round" stroke-linejoin="round" filter="url(#fGlow)"/>
<path d="M510,177 C528,183 546,200 547,222 C548,238 536,245 540,250 C541,253 543,254 544.6,254.0 C558.6,254.0 558.8,234.3 570.8,234.3 C583.8,234.3 566.0,272.0 580.0,272.0 C594.0,272.0 590.8,248.0 602.8,248.0 C615.8,248.0 595.7,284.5 609.7,284.5 C623.7,284.5 620.5,259.4 632.5,259.4 C645.5,259.4 624.2,297.0 638.2,297.0 C652.2,297.0 648.0,269.7 660.0,269.7 C673.0,269.7 649.4,307.4 663.4,307.4 C677.4,307.4 675.3,280.0 687.3,280.0 C700.3,280.0 678.0,315.4 692.0,315.4 C706.0,315.4 705.0,288.0 717.0,288.0 C730.0,288.0 714.5,318.0 728.5,318.0 C745,320 770,325 807,324 C835,323 860,317 884,313" fill="none" stroke="url(#gRed)" stroke-width="7.6" stroke-linecap="round" stroke-linejoin="round"/>
<path d="M864,312 L880,318 L868,333Z" fill="#FBEFE6" opacity="0.85"/>
<path d="M861,300 L897.5,310 L873.5,339 L867,333 L880.5,318 L859.5,306.5Z" fill="#CF110D"/>
<path d="M759,361 C790,362 815,360 832,352 C848,344 855,334 866,332 C880,330 895,331 902,333" fill="none" stroke="#4F7E3A" stroke-width="1.3"/>
<path d="M896,329 L904,333 L896,337" fill="none" stroke="#4F7E3A" stroke-width="1.3"/>
<path d="M343.0,167.5 L409.0,167.5" fill="none" stroke="#4A4A4A" stroke-width="2.6" stroke-linecap="butt" stroke-linejoin="miter"/>
<path d="M402,152 L411,143 L411,158Z" fill="#A9BCA6" opacity="0.8"/>
<path d="M410.6,143.5 L442.0,161.0 L410.6,181.5Z" fill="#FFFFFF"/>
<path d="M411.0,183.5 L443.0,163.0" fill="none" stroke="#5A4A3A" stroke-width="3" stroke-linecap="round" stroke-linejoin="miter"/>
<path d="M649.5,236.0 L649.5,356.0" fill="none" stroke="#FFFFFF" stroke-width="9" stroke-linecap="butt" stroke-linejoin="miter"/>
<path d="M780.0,98.8 L654.0,98.8" fill="none" stroke="#555" stroke-width="2.2" stroke-linecap="butt" stroke-linejoin="miter"/>
<path d="M655.2,97.7 L655.2,353.0" fill="none" stroke="#555" stroke-width="2.8" stroke-linecap="butt" stroke-linejoin="miter"/>
<path d="M633.0,354.0 L670.0,355.0 L651.5,388.0Z" fill="#FFFFFF"/>
<path d="M669.5,356.0 L653.0,386.0" fill="none" stroke="#4A4A4A" stroke-width="2.6" stroke-linecap="round" stroke-linejoin="miter"/>
<path d="M955.0,187.5 L760.0,187.5 L760.0,274.0" fill="none" stroke="#4A4A4A" stroke-width="2.8" stroke-linecap="butt" stroke-linejoin="miter"/>
<path d="M739.5,279.0 L776.0,279.0 L757.0,312.0Z" fill="#FFFFFF"/>
<path d="M775.5,280.0 L757.5,311.0" fill="none" stroke="#4A4A4A" stroke-width="2.6" stroke-linecap="round" stroke-linejoin="miter"/>
<path d="M762.0,411.0 L762.0,440.0" fill="none" stroke="#FFFFFF" stroke-width="8" stroke-linecap="butt" stroke-linejoin="miter"/>
<path d="M767.0,409.0 L767.0,627.0" fill="none" stroke="#4A4A4A" stroke-width="3.2" stroke-linecap="butt" stroke-linejoin="miter"/>
<path d="M760.0,374.0 L746.0,411.0 L781.5,410.0Z" fill="#FFFFFF"/>
<path d="M764.0,378.0 L781.5,409.0" fill="none" stroke="#4A4A4A" stroke-width="2.4" stroke-linecap="round" stroke-linejoin="miter"/>
<path d="M767.0,410.5 L782.0,410.5" fill="none" stroke="#4A4A4A" stroke-width="2.2" stroke-linecap="butt" stroke-linejoin="miter"/>
<path d="M850.0,436.0 L850.0,476.0" fill="none" stroke="#FFFFFF" stroke-width="9" stroke-linecap="butt" stroke-linejoin="miter"/>
<path d="M855.5,436.0 L855.5,525.0" fill="none" stroke="#4A4A4A" stroke-width="3" stroke-linecap="butt" stroke-linejoin="miter"/>
<path d="M852.6,404.0 L832.0,436.0 L870.0,436.0Z" fill="#FFFFFF"/>
<path d="M856.0,408.0 L870.5,434.0" fill="none" stroke="#4A4A4A" stroke-width="2.4" stroke-linecap="round" stroke-linejoin="miter"/>
<path d="M833.0,437.0 L871.0,437.0" fill="none" stroke="#4A4A4A" stroke-width="2.4" stroke-linecap="butt" stroke-linejoin="miter"/>
<path d="M970.8,401.2 L1066.8,457.2" fill="none" stroke="#FFFFFF" stroke-width="10" stroke-linecap="butt" stroke-linejoin="miter"/>
<path d="M939.5,382.5 L976.0,381.5 L957.0,417.5Z" fill="#FFFFFF"/>
<path d="M965.0,404.5 L1064.0,462.0" fill="none" stroke="#4A4A4A" stroke-width="2.6" stroke-linecap="butt" stroke-linejoin="miter"/>
<path d="M940.0,384.5 L957.0,418.5 L965.5,404.5" fill="none" stroke="#4A4A4A" stroke-width="2.4" stroke-linecap="round" stroke-linejoin="miter"/>
<defs><linearGradient id="gSh" x1="0" y1="0" x2="0" y2="1"><stop offset="0" stop-color="#444" stop-opacity="0"/><stop offset="0.38" stop-color="#444" stop-opacity="0"/><stop offset="0.62" stop-color="#444" stop-opacity="1"/><stop offset="1" stop-color="#444" stop-opacity="1"/></linearGradient></defs>
<rect x="781.5" y="66.2" width="153.0" height="58.0" rx="29" ry="29" fill="url(#gSh)" opacity="1.0"/>
<rect x="779.5" y="62.9" width="153.0" height="58.0" rx="29" ry="29" fill="#FEFEFE"/>
<text x="799.5" y="92.5" font-size="34" letter-spacing="1.6" font-weight="500" text-anchor="start" dominant-baseline="central">外耳道</text>
<rect x="956.0" y="161.7" width="154.5" height="58.0" rx="29" ry="29" fill="url(#gSh)" opacity="1.0"/>
<rect x="954.0" y="158.4" width="154.5" height="58.0" rx="29" ry="29" fill="#FEFEFE"/>
<text x="979.5" y="181.5" font-size="35" letter-spacing="1.8" font-weight="500" text-anchor="start" dominant-baseline="central">耳小骨</text>
<rect x="993.0" y="292.7" width="231.5" height="57.0" rx="29" ry="29" fill="url(#gSh)" opacity="1.0"/>
<rect x="991.0" y="289.4" width="231.5" height="57.0" rx="29" ry="29" fill="#FEFEFE"/>
<text x="1010.5" y="318.5" font-size="31" letter-spacing="1.1" font-weight="500" text-anchor="start" dominant-baseline="central">大脑听觉神经</text>
<rect x="1066.0" y="457.7" width="152.0" height="60.0" rx="29" ry="29" fill="url(#gSh)" opacity="1.0"/>
<rect x="1064.0" y="454.4" width="152.0" height="60.0" rx="29" ry="29" fill="#FEFEFE"/>
<text x="1094.5" y="478.0" font-size="43.5" letter-spacing="10.5" font-weight="500" text-anchor="start" dominant-baseline="central">耳蜗</text>
<rect x="796.0" y="537.5" width="135.5" height="56.0" rx="29" ry="29" fill="url(#gSh)" opacity="0.8"/>
<rect x="794.0" y="534.9" width="135.5" height="56.0" rx="29" ry="29" fill="#FEFEFE"/>
<text x="812.0" y="560.0" font-size="33.5" letter-spacing="2.2" font-weight="500" text-anchor="start" dominant-baseline="central">内耳道</text>
<rect x="690.6" y="642.7" width="147.5" height="62.0" rx="29" ry="29" fill="url(#gSh)" opacity="1.0"/>
<rect x="688.0" y="639.4" width="147.5" height="62.0" rx="29" ry="29" fill="#FEFEFE"/>
<text x="709.5" y="664.0" font-size="42.5" letter-spacing="15.5" font-weight="500" text-anchor="start" dominant-baseline="central">鼓膜</text>
<rect x="46.5" y="403.2" width="208.0" height="60.0" rx="29" ry="29" fill="url(#gSh)" opacity="1.0"/>
<rect x="44.5" y="399.9" width="208.0" height="60.0" rx="29" ry="29" fill="#FEFEFE"/>
<text x="74.5" y="423.5" font-size="40" letter-spacing="0.4" font-weight="500" text-anchor="start" dominant-baseline="central">空气传导</text>
<text x="111.5" y="168" font-size="56" letter-spacing="13.5" font-weight="400" dominant-baseline="central" fill="#484848">骨传导</text>
<path d="M254.3,441 C254.8,434 257.5,430 263,429.6" fill="none" stroke="#444" stroke-width="2.2" stroke-linecap="round"/>
</svg>
</body></html>
